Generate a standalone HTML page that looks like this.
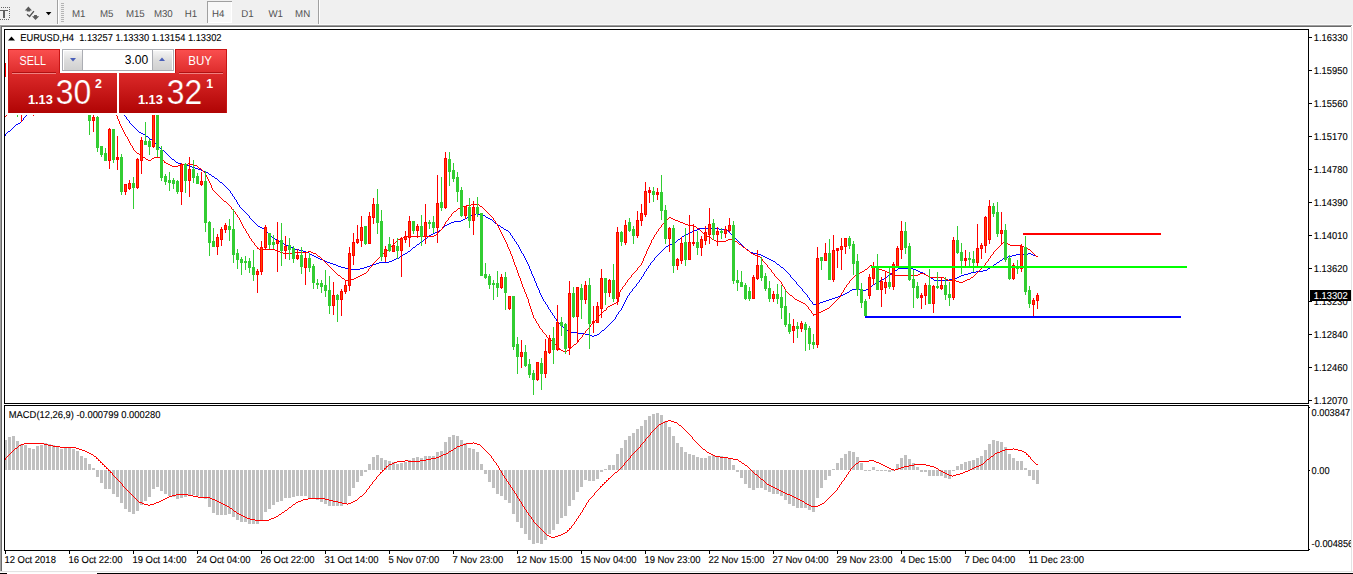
<!DOCTYPE html><html><head><meta charset="utf-8"><title>EURUSD,H4</title><style>
html,body{margin:0;padding:0;background:#fff;}
body{width:1353px;height:574px;overflow:hidden;position:relative;font-family:"Liberation Sans",sans-serif;}
#tb{position:absolute;left:0;top:0;width:1353px;height:25px;background:#f0f0f0;}
#tb span{position:absolute;top:8px;font-size:9.6px;line-height:11px;color:#3c3c3c;white-space:nowrap;}
svg{position:absolute;left:0;top:0;}
.ax{font-size:9px;fill:#000;}
.lb{font-size:9.3px;fill:#000;}
</style></head><body>
<div id="tb"></div>
<svg width="1353" height="574" viewBox="0 0 1353 574">
<g shape-rendering="crispEdges">
<rect x="1" y="7" width="1" height="1" fill="#666"/>
<rect x="3" y="7" width="1" height="1" fill="#666"/>
<rect x="5" y="7" width="1" height="1" fill="#666"/>
<rect x="7" y="7" width="1" height="1" fill="#666"/>
<rect x="9" y="7" width="1" height="1" fill="#666"/>
<rect x="0" y="19" width="1" height="1" fill="#666"/>
<rect x="2" y="19" width="1" height="1" fill="#666"/>
<rect x="4" y="19" width="1" height="1" fill="#666"/>
<rect x="6" y="19" width="1" height="1" fill="#666"/>
<rect x="8" y="19" width="1" height="1" fill="#666"/>
<rect x="9" y="9" width="1" height="1" fill="#666"/>
<rect x="9" y="11" width="1" height="1" fill="#666"/>
<rect x="9" y="13" width="1" height="1" fill="#666"/>
<rect x="9" y="15" width="1" height="1" fill="#666"/>
<rect x="9" y="17" width="1" height="1" fill="#666"/>
<rect x="0" y="10" width="8" height="1" fill="#606060"/><rect x="3" y="10" width="2" height="8" fill="#606060"/>
<rect x="57" y="0" width="1" height="25" fill="#a0a0a0"/><rect x="58" y="0" width="1" height="25" fill="#fff"/>
<rect x="61" y="3" width="3" height="1" fill="#b4b4b4"/>
<rect x="61" y="5" width="3" height="1" fill="#b4b4b4"/>
<rect x="61" y="7" width="3" height="1" fill="#b4b4b4"/>
<rect x="61" y="9" width="3" height="1" fill="#b4b4b4"/>
<rect x="61" y="11" width="3" height="1" fill="#b4b4b4"/>
<rect x="61" y="13" width="3" height="1" fill="#b4b4b4"/>
<rect x="61" y="15" width="3" height="1" fill="#b4b4b4"/>
<rect x="61" y="17" width="3" height="1" fill="#b4b4b4"/>
<rect x="61" y="19" width="3" height="1" fill="#b4b4b4"/>
<rect x="61" y="21" width="3" height="1" fill="#b4b4b4"/>
<rect x="318" y="0" width="1" height="24" fill="#a0a0a0"/><rect x="319" y="0" width="1" height="24" fill="#fff"/>
<rect x="207" y="1" width="25" height="22" fill="#f8f8f8"/>
<rect x="207" y="1" width="25" height="1" fill="#a0a0a0"/><rect x="207" y="1" width="1" height="22" fill="#a0a0a0"/>
<rect x="231" y="2" width="1" height="21" fill="#fff"/><rect x="208" y="22" width="24" height="1" fill="#fff"/>
<rect x="0" y="24" width="1353" height="1" fill="#fafafa"/>
<rect x="0" y="25" width="1352" height="1" fill="#a0a0a0"/>
<rect x="0" y="26" width="1351" height="1" fill="#696969"/>
<rect x="0" y="26" width="1" height="545" fill="#a0a0a0"/><rect x="1" y="27" width="1" height="544" fill="#696969"/>
<rect x="0" y="571" width="1353" height="1" fill="#e3e3e3"/>
<rect x="0" y="572" width="1353" height="1" fill="#fcfcfc"/>
<rect x="0" y="573" width="1353" height="1" fill="#000"/>
<rect x="7" y="573" width="90" height="1" fill="#fff"/>
</g>
<g fill="#5a5a5a"><path d="M28.4 6.5 L32 10.4 L30.2 10.4 L30.2 11.6 L26.8 11.6 L26.8 10.4 L24.8 10.4 Z"/><path d="M35.5 20 L39.2 16.2 L36.9 16.2 L36.9 15 L34.1 15 L34.1 16.2 L32 16.2 Z"/></g>
<path d="M27 14.3 L29.6 16.5 L33.9 11.2" fill="none" stroke="#505050" stroke-width="1.3"/>
<path d="M45.8 12 L51.4 12 L48.6 15.2 Z" fill="#000"/>
<text transform="translate(71.9,17) scale(0.97,1)" style="font-size:10px;fill:#505050;stroke:#505050;stroke-width:0;text-rendering:geometricPrecision">M1</text>
<text transform="translate(99.9,17) scale(0.97,1)" style="font-size:10px;fill:#505050;stroke:#505050;stroke-width:0;text-rendering:geometricPrecision">M5</text>
<text transform="translate(125.9,17) scale(0.97,1)" style="font-size:10px;fill:#505050;stroke:#505050;stroke-width:0;text-rendering:geometricPrecision">M15</text>
<text transform="translate(153.9,17) scale(0.97,1)" style="font-size:10px;fill:#505050;stroke:#505050;stroke-width:0;text-rendering:geometricPrecision">M30</text>
<text transform="translate(184.70000000000002,17) scale(0.97,1)" style="font-size:10px;fill:#505050;stroke:#505050;stroke-width:0;text-rendering:geometricPrecision">H1</text>
<text transform="translate(211.9,17) scale(0.97,1)" style="font-size:10px;fill:#505050;stroke:#505050;stroke-width:0;text-rendering:geometricPrecision">H4</text>
<text transform="translate(241.20000000000002,17) scale(0.97,1)" style="font-size:10px;fill:#505050;stroke:#505050;stroke-width:0;text-rendering:geometricPrecision">D1</text>
<text transform="translate(268.4,17) scale(0.97,1)" style="font-size:10px;fill:#505050;stroke:#505050;stroke-width:0;text-rendering:geometricPrecision">W1</text>
<text transform="translate(295.09999999999997,17) scale(0.97,1)" style="font-size:10px;fill:#505050;stroke:#505050;stroke-width:0;text-rendering:geometricPrecision">MN</text>
<g shape-rendering="crispEdges">
<rect x="1309" y="37" width="3" height="1" fill="#000"/>
<rect x="1309" y="70" width="3" height="1" fill="#000"/>
<rect x="1309" y="103" width="3" height="1" fill="#000"/>
<rect x="1309" y="136" width="3" height="1" fill="#000"/>
<rect x="1309" y="169" width="3" height="1" fill="#000"/>
<rect x="1309" y="202" width="3" height="1" fill="#000"/>
<rect x="1309" y="235" width="3" height="1" fill="#000"/>
<rect x="1309" y="268" width="3" height="1" fill="#000"/>
<rect x="1309" y="301" width="3" height="1" fill="#000"/>
<rect x="1309" y="334" width="3" height="1" fill="#000"/>
<rect x="1309" y="367" width="3" height="1" fill="#000"/>
<rect x="1309" y="400" width="3" height="1" fill="#000"/>
<rect x="1309" y="407" width="1" height="1" fill="#000"/>
<rect x="1309" y="470" width="1" height="1" fill="#000"/>
<rect x="1309" y="549" width="1" height="1" fill="#000"/>
<rect x="5" y="551" width="1" height="3" fill="#000"/>
<rect x="69" y="551" width="1" height="3" fill="#000"/>
<rect x="133" y="551" width="1" height="3" fill="#000"/>
<rect x="197" y="551" width="1" height="3" fill="#000"/>
<rect x="261" y="551" width="1" height="3" fill="#000"/>
<rect x="325" y="551" width="1" height="3" fill="#000"/>
<rect x="389" y="551" width="1" height="3" fill="#000"/>
<rect x="453" y="551" width="1" height="3" fill="#000"/>
<rect x="517" y="551" width="1" height="3" fill="#000"/>
<rect x="581" y="551" width="1" height="3" fill="#000"/>
<rect x="645" y="551" width="1" height="3" fill="#000"/>
<rect x="709" y="551" width="1" height="3" fill="#000"/>
<rect x="773" y="551" width="1" height="3" fill="#000"/>
<rect x="837" y="551" width="1" height="3" fill="#000"/>
<rect x="901" y="551" width="1" height="3" fill="#000"/>
<rect x="965" y="551" width="1" height="3" fill="#000"/>
<rect x="1029" y="551" width="1" height="3" fill="#000"/>
<rect x="4" y="440" width="3" height="30" fill="#c0c0c0"/>
<rect x="8" y="437" width="3" height="33" fill="#c0c0c0"/>
<rect x="12" y="436" width="3" height="34" fill="#c0c0c0"/>
<rect x="16" y="441" width="3" height="29" fill="#c0c0c0"/>
<rect x="20" y="444" width="3" height="26" fill="#c0c0c0"/>
<rect x="24" y="445" width="3" height="25" fill="#c0c0c0"/>
<rect x="28" y="448" width="3" height="22" fill="#c0c0c0"/>
<rect x="32" y="449" width="3" height="21" fill="#c0c0c0"/>
<rect x="36" y="446" width="3" height="24" fill="#c0c0c0"/>
<rect x="40" y="445" width="3" height="25" fill="#c0c0c0"/>
<rect x="44" y="443" width="3" height="27" fill="#c0c0c0"/>
<rect x="48" y="444" width="3" height="26" fill="#c0c0c0"/>
<rect x="52" y="445" width="3" height="25" fill="#c0c0c0"/>
<rect x="56" y="447" width="3" height="23" fill="#c0c0c0"/>
<rect x="60" y="449" width="3" height="21" fill="#c0c0c0"/>
<rect x="64" y="447" width="3" height="23" fill="#c0c0c0"/>
<rect x="68" y="447" width="3" height="23" fill="#c0c0c0"/>
<rect x="72" y="449" width="3" height="21" fill="#c0c0c0"/>
<rect x="76" y="451" width="3" height="19" fill="#c0c0c0"/>
<rect x="80" y="456" width="3" height="14" fill="#c0c0c0"/>
<rect x="84" y="458" width="3" height="12" fill="#c0c0c0"/>
<rect x="88" y="464" width="3" height="6" fill="#c0c0c0"/>
<rect x="92" y="468" width="3" height="2" fill="#c0c0c0"/>
<rect x="96" y="470" width="3" height="7" fill="#c0c0c0"/>
<rect x="100" y="470" width="3" height="13" fill="#c0c0c0"/>
<rect x="104" y="470" width="3" height="19" fill="#c0c0c0"/>
<rect x="108" y="470" width="3" height="19" fill="#c0c0c0"/>
<rect x="112" y="470" width="3" height="24" fill="#c0c0c0"/>
<rect x="116" y="470" width="3" height="27" fill="#c0c0c0"/>
<rect x="120" y="470" width="3" height="33" fill="#c0c0c0"/>
<rect x="124" y="470" width="3" height="39" fill="#c0c0c0"/>
<rect x="128" y="470" width="3" height="42" fill="#c0c0c0"/>
<rect x="132" y="470" width="3" height="44" fill="#c0c0c0"/>
<rect x="136" y="470" width="3" height="41" fill="#c0c0c0"/>
<rect x="140" y="470" width="3" height="35" fill="#c0c0c0"/>
<rect x="144" y="470" width="3" height="31" fill="#c0c0c0"/>
<rect x="148" y="470" width="3" height="27" fill="#c0c0c0"/>
<rect x="152" y="470" width="3" height="19" fill="#c0c0c0"/>
<rect x="156" y="470" width="3" height="17" fill="#c0c0c0"/>
<rect x="160" y="470" width="3" height="21" fill="#c0c0c0"/>
<rect x="164" y="470" width="3" height="24" fill="#c0c0c0"/>
<rect x="168" y="470" width="3" height="26" fill="#c0c0c0"/>
<rect x="172" y="470" width="3" height="27" fill="#c0c0c0"/>
<rect x="176" y="470" width="3" height="29" fill="#c0c0c0"/>
<rect x="180" y="470" width="3" height="28" fill="#c0c0c0"/>
<rect x="184" y="470" width="3" height="27" fill="#c0c0c0"/>
<rect x="188" y="470" width="3" height="25" fill="#c0c0c0"/>
<rect x="192" y="470" width="3" height="25" fill="#c0c0c0"/>
<rect x="196" y="470" width="3" height="26" fill="#c0c0c0"/>
<rect x="200" y="470" width="3" height="27" fill="#c0c0c0"/>
<rect x="204" y="470" width="3" height="29" fill="#c0c0c0"/>
<rect x="208" y="470" width="3" height="37" fill="#c0c0c0"/>
<rect x="212" y="470" width="3" height="43" fill="#c0c0c0"/>
<rect x="216" y="470" width="3" height="45" fill="#c0c0c0"/>
<rect x="220" y="470" width="3" height="45" fill="#c0c0c0"/>
<rect x="224" y="470" width="3" height="45" fill="#c0c0c0"/>
<rect x="228" y="470" width="3" height="44" fill="#c0c0c0"/>
<rect x="232" y="470" width="3" height="47" fill="#c0c0c0"/>
<rect x="236" y="470" width="3" height="50" fill="#c0c0c0"/>
<rect x="240" y="470" width="3" height="52" fill="#c0c0c0"/>
<rect x="244" y="470" width="3" height="52" fill="#c0c0c0"/>
<rect x="248" y="470" width="3" height="54" fill="#c0c0c0"/>
<rect x="252" y="470" width="3" height="54" fill="#c0c0c0"/>
<rect x="256" y="470" width="3" height="54" fill="#c0c0c0"/>
<rect x="260" y="470" width="3" height="50" fill="#c0c0c0"/>
<rect x="264" y="470" width="3" height="42" fill="#c0c0c0"/>
<rect x="268" y="470" width="3" height="39" fill="#c0c0c0"/>
<rect x="272" y="470" width="3" height="35" fill="#c0c0c0"/>
<rect x="276" y="470" width="3" height="32" fill="#c0c0c0"/>
<rect x="280" y="470" width="3" height="31" fill="#c0c0c0"/>
<rect x="284" y="470" width="3" height="28" fill="#c0c0c0"/>
<rect x="288" y="470" width="3" height="28" fill="#c0c0c0"/>
<rect x="292" y="470" width="3" height="27" fill="#c0c0c0"/>
<rect x="296" y="470" width="3" height="26" fill="#c0c0c0"/>
<rect x="300" y="470" width="3" height="26" fill="#c0c0c0"/>
<rect x="304" y="470" width="3" height="26" fill="#c0c0c0"/>
<rect x="308" y="470" width="3" height="28" fill="#c0c0c0"/>
<rect x="312" y="470" width="3" height="28" fill="#c0c0c0"/>
<rect x="316" y="470" width="3" height="30" fill="#c0c0c0"/>
<rect x="320" y="470" width="3" height="32" fill="#c0c0c0"/>
<rect x="324" y="470" width="3" height="34" fill="#c0c0c0"/>
<rect x="328" y="470" width="3" height="36" fill="#c0c0c0"/>
<rect x="332" y="470" width="3" height="36" fill="#c0c0c0"/>
<rect x="336" y="470" width="3" height="36" fill="#c0c0c0"/>
<rect x="340" y="470" width="3" height="36" fill="#c0c0c0"/>
<rect x="344" y="470" width="3" height="33" fill="#c0c0c0"/>
<rect x="348" y="470" width="3" height="26" fill="#c0c0c0"/>
<rect x="352" y="470" width="3" height="18" fill="#c0c0c0"/>
<rect x="356" y="470" width="3" height="12" fill="#c0c0c0"/>
<rect x="360" y="470" width="3" height="6" fill="#c0c0c0"/>
<rect x="364" y="470" width="3" height="2" fill="#c0c0c0"/>
<rect x="368" y="464" width="3" height="6" fill="#c0c0c0"/>
<rect x="372" y="457" width="3" height="13" fill="#c0c0c0"/>
<rect x="376" y="455" width="3" height="15" fill="#c0c0c0"/>
<rect x="380" y="458" width="3" height="12" fill="#c0c0c0"/>
<rect x="384" y="460" width="3" height="10" fill="#c0c0c0"/>
<rect x="388" y="461" width="3" height="9" fill="#c0c0c0"/>
<rect x="392" y="462" width="3" height="8" fill="#c0c0c0"/>
<rect x="396" y="464" width="3" height="6" fill="#c0c0c0"/>
<rect x="400" y="463" width="3" height="7" fill="#c0c0c0"/>
<rect x="404" y="462" width="3" height="8" fill="#c0c0c0"/>
<rect x="408" y="460" width="3" height="10" fill="#c0c0c0"/>
<rect x="412" y="458" width="3" height="12" fill="#c0c0c0"/>
<rect x="416" y="457" width="3" height="13" fill="#c0c0c0"/>
<rect x="420" y="458" width="3" height="12" fill="#c0c0c0"/>
<rect x="424" y="456" width="3" height="14" fill="#c0c0c0"/>
<rect x="428" y="456" width="3" height="14" fill="#c0c0c0"/>
<rect x="432" y="456" width="3" height="14" fill="#c0c0c0"/>
<rect x="436" y="452" width="3" height="18" fill="#c0c0c0"/>
<rect x="440" y="451" width="3" height="19" fill="#c0c0c0"/>
<rect x="444" y="442" width="3" height="28" fill="#c0c0c0"/>
<rect x="448" y="437" width="3" height="33" fill="#c0c0c0"/>
<rect x="452" y="435" width="3" height="35" fill="#c0c0c0"/>
<rect x="456" y="436" width="3" height="34" fill="#c0c0c0"/>
<rect x="460" y="440" width="3" height="30" fill="#c0c0c0"/>
<rect x="464" y="443" width="3" height="27" fill="#c0c0c0"/>
<rect x="468" y="448" width="3" height="22" fill="#c0c0c0"/>
<rect x="472" y="449" width="3" height="21" fill="#c0c0c0"/>
<rect x="476" y="452" width="3" height="18" fill="#c0c0c0"/>
<rect x="480" y="464" width="3" height="6" fill="#c0c0c0"/>
<rect x="484" y="470" width="3" height="4" fill="#c0c0c0"/>
<rect x="488" y="470" width="3" height="12" fill="#c0c0c0"/>
<rect x="492" y="470" width="3" height="18" fill="#c0c0c0"/>
<rect x="496" y="470" width="3" height="24" fill="#c0c0c0"/>
<rect x="500" y="470" width="3" height="26" fill="#c0c0c0"/>
<rect x="504" y="470" width="3" height="30" fill="#c0c0c0"/>
<rect x="508" y="470" width="3" height="33" fill="#c0c0c0"/>
<rect x="512" y="470" width="3" height="44" fill="#c0c0c0"/>
<rect x="516" y="470" width="3" height="52" fill="#c0c0c0"/>
<rect x="520" y="470" width="3" height="58" fill="#c0c0c0"/>
<rect x="524" y="470" width="3" height="64" fill="#c0c0c0"/>
<rect x="528" y="470" width="3" height="70" fill="#c0c0c0"/>
<rect x="532" y="470" width="3" height="74" fill="#c0c0c0"/>
<rect x="536" y="470" width="3" height="73" fill="#c0c0c0"/>
<rect x="540" y="470" width="3" height="74" fill="#c0c0c0"/>
<rect x="544" y="470" width="3" height="70" fill="#c0c0c0"/>
<rect x="548" y="470" width="3" height="64" fill="#c0c0c0"/>
<rect x="552" y="470" width="3" height="60" fill="#c0c0c0"/>
<rect x="556" y="470" width="3" height="54" fill="#c0c0c0"/>
<rect x="560" y="470" width="3" height="48" fill="#c0c0c0"/>
<rect x="564" y="470" width="3" height="46" fill="#c0c0c0"/>
<rect x="568" y="470" width="3" height="36" fill="#c0c0c0"/>
<rect x="572" y="470" width="3" height="30" fill="#c0c0c0"/>
<rect x="576" y="470" width="3" height="22" fill="#c0c0c0"/>
<rect x="580" y="470" width="3" height="17" fill="#c0c0c0"/>
<rect x="584" y="470" width="3" height="10" fill="#c0c0c0"/>
<rect x="588" y="470" width="3" height="11" fill="#c0c0c0"/>
<rect x="592" y="470" width="3" height="11" fill="#c0c0c0"/>
<rect x="596" y="470" width="3" height="9" fill="#c0c0c0"/>
<rect x="600" y="470" width="3" height="2" fill="#c0c0c0"/>
<rect x="604" y="469" width="3" height="1" fill="#c0c0c0"/>
<rect x="608" y="465" width="3" height="5" fill="#c0c0c0"/>
<rect x="612" y="465" width="3" height="5" fill="#c0c0c0"/>
<rect x="616" y="454" width="3" height="16" fill="#c0c0c0"/>
<rect x="620" y="448" width="3" height="22" fill="#c0c0c0"/>
<rect x="624" y="440" width="3" height="30" fill="#c0c0c0"/>
<rect x="628" y="436" width="3" height="34" fill="#c0c0c0"/>
<rect x="632" y="433" width="3" height="37" fill="#c0c0c0"/>
<rect x="636" y="429" width="3" height="41" fill="#c0c0c0"/>
<rect x="640" y="426" width="3" height="44" fill="#c0c0c0"/>
<rect x="644" y="420" width="3" height="50" fill="#c0c0c0"/>
<rect x="648" y="416" width="3" height="54" fill="#c0c0c0"/>
<rect x="652" y="414" width="3" height="56" fill="#c0c0c0"/>
<rect x="656" y="413" width="3" height="57" fill="#c0c0c0"/>
<rect x="660" y="415" width="3" height="55" fill="#c0c0c0"/>
<rect x="664" y="421" width="3" height="49" fill="#c0c0c0"/>
<rect x="668" y="427" width="3" height="43" fill="#c0c0c0"/>
<rect x="672" y="436" width="3" height="34" fill="#c0c0c0"/>
<rect x="676" y="443" width="3" height="27" fill="#c0c0c0"/>
<rect x="680" y="447" width="3" height="23" fill="#c0c0c0"/>
<rect x="684" y="452" width="3" height="18" fill="#c0c0c0"/>
<rect x="688" y="454" width="3" height="16" fill="#c0c0c0"/>
<rect x="692" y="455" width="3" height="15" fill="#c0c0c0"/>
<rect x="696" y="457" width="3" height="13" fill="#c0c0c0"/>
<rect x="700" y="458" width="3" height="12" fill="#c0c0c0"/>
<rect x="704" y="458" width="3" height="12" fill="#c0c0c0"/>
<rect x="708" y="456" width="3" height="14" fill="#c0c0c0"/>
<rect x="712" y="455" width="3" height="15" fill="#c0c0c0"/>
<rect x="716" y="456" width="3" height="14" fill="#c0c0c0"/>
<rect x="720" y="456" width="3" height="14" fill="#c0c0c0"/>
<rect x="724" y="457" width="3" height="13" fill="#c0c0c0"/>
<rect x="728" y="458" width="3" height="12" fill="#c0c0c0"/>
<rect x="732" y="465" width="3" height="5" fill="#c0c0c0"/>
<rect x="736" y="470" width="3" height="2" fill="#c0c0c0"/>
<rect x="740" y="470" width="3" height="8" fill="#c0c0c0"/>
<rect x="744" y="470" width="3" height="14" fill="#c0c0c0"/>
<rect x="748" y="470" width="3" height="18" fill="#c0c0c0"/>
<rect x="752" y="470" width="3" height="20" fill="#c0c0c0"/>
<rect x="756" y="470" width="3" height="18" fill="#c0c0c0"/>
<rect x="760" y="470" width="3" height="18" fill="#c0c0c0"/>
<rect x="764" y="470" width="3" height="20" fill="#c0c0c0"/>
<rect x="768" y="470" width="3" height="22" fill="#c0c0c0"/>
<rect x="772" y="470" width="3" height="24" fill="#c0c0c0"/>
<rect x="776" y="470" width="3" height="24" fill="#c0c0c0"/>
<rect x="780" y="470" width="3" height="26" fill="#c0c0c0"/>
<rect x="784" y="470" width="3" height="30" fill="#c0c0c0"/>
<rect x="788" y="470" width="3" height="34" fill="#c0c0c0"/>
<rect x="792" y="470" width="3" height="36" fill="#c0c0c0"/>
<rect x="796" y="470" width="3" height="38" fill="#c0c0c0"/>
<rect x="800" y="470" width="3" height="38" fill="#c0c0c0"/>
<rect x="804" y="470" width="3" height="38" fill="#c0c0c0"/>
<rect x="808" y="470" width="3" height="40" fill="#c0c0c0"/>
<rect x="812" y="470" width="3" height="42" fill="#c0c0c0"/>
<rect x="816" y="470" width="3" height="28" fill="#c0c0c0"/>
<rect x="820" y="470" width="3" height="18" fill="#c0c0c0"/>
<rect x="824" y="470" width="3" height="10" fill="#c0c0c0"/>
<rect x="828" y="470" width="3" height="6" fill="#c0c0c0"/>
<rect x="832" y="469" width="3" height="1" fill="#c0c0c0"/>
<rect x="836" y="463" width="3" height="7" fill="#c0c0c0"/>
<rect x="840" y="458" width="3" height="12" fill="#c0c0c0"/>
<rect x="844" y="454" width="3" height="16" fill="#c0c0c0"/>
<rect x="848" y="451" width="3" height="19" fill="#c0c0c0"/>
<rect x="852" y="452" width="3" height="18" fill="#c0c0c0"/>
<rect x="856" y="457" width="3" height="13" fill="#c0c0c0"/>
<rect x="860" y="463" width="3" height="7" fill="#c0c0c0"/>
<rect x="864" y="470" width="3" height="1" fill="#c0c0c0"/>
<rect x="868" y="470" width="3" height="1" fill="#c0c0c0"/>
<rect x="872" y="467" width="3" height="3" fill="#c0c0c0"/>
<rect x="876" y="470" width="3" height="1" fill="#c0c0c0"/>
<rect x="880" y="470" width="3" height="1" fill="#c0c0c0"/>
<rect x="884" y="470" width="3" height="1" fill="#c0c0c0"/>
<rect x="888" y="470" width="3" height="2" fill="#c0c0c0"/>
<rect x="892" y="470" width="3" height="1" fill="#c0c0c0"/>
<rect x="896" y="464" width="3" height="6" fill="#c0c0c0"/>
<rect x="900" y="458" width="3" height="12" fill="#c0c0c0"/>
<rect x="904" y="455" width="3" height="15" fill="#c0c0c0"/>
<rect x="908" y="459" width="3" height="11" fill="#c0c0c0"/>
<rect x="912" y="463" width="3" height="7" fill="#c0c0c0"/>
<rect x="916" y="467" width="3" height="3" fill="#c0c0c0"/>
<rect x="920" y="470" width="3" height="2" fill="#c0c0c0"/>
<rect x="924" y="470" width="3" height="2" fill="#c0c0c0"/>
<rect x="928" y="470" width="3" height="6" fill="#c0c0c0"/>
<rect x="932" y="470" width="3" height="6" fill="#c0c0c0"/>
<rect x="936" y="470" width="3" height="6" fill="#c0c0c0"/>
<rect x="940" y="470" width="3" height="6" fill="#c0c0c0"/>
<rect x="944" y="470" width="3" height="8" fill="#c0c0c0"/>
<rect x="948" y="470" width="3" height="9" fill="#c0c0c0"/>
<rect x="952" y="470" width="3" height="1" fill="#c0c0c0"/>
<rect x="956" y="466" width="3" height="4" fill="#c0c0c0"/>
<rect x="960" y="464" width="3" height="6" fill="#c0c0c0"/>
<rect x="964" y="462" width="3" height="8" fill="#c0c0c0"/>
<rect x="968" y="461" width="3" height="9" fill="#c0c0c0"/>
<rect x="972" y="460" width="3" height="10" fill="#c0c0c0"/>
<rect x="976" y="458" width="3" height="12" fill="#c0c0c0"/>
<rect x="980" y="456" width="3" height="14" fill="#c0c0c0"/>
<rect x="984" y="450" width="3" height="20" fill="#c0c0c0"/>
<rect x="988" y="444" width="3" height="26" fill="#c0c0c0"/>
<rect x="992" y="440" width="3" height="30" fill="#c0c0c0"/>
<rect x="996" y="441" width="3" height="29" fill="#c0c0c0"/>
<rect x="1000" y="442" width="3" height="28" fill="#c0c0c0"/>
<rect x="1004" y="447" width="3" height="23" fill="#c0c0c0"/>
<rect x="1008" y="454" width="3" height="16" fill="#c0c0c0"/>
<rect x="1012" y="458" width="3" height="12" fill="#c0c0c0"/>
<rect x="1016" y="461" width="3" height="9" fill="#c0c0c0"/>
<rect x="1020" y="461" width="3" height="9" fill="#c0c0c0"/>
<rect x="1024" y="468" width="3" height="2" fill="#c0c0c0"/>
<rect x="1028" y="470" width="3" height="6" fill="#c0c0c0"/>
<rect x="1032" y="470" width="3" height="10" fill="#c0c0c0"/>
<rect x="1036" y="470" width="3" height="14" fill="#c0c0c0"/>
</g>
<path fill="none" shape-rendering="crispEdges" stroke="#0000ff" stroke-width="1" d="M5.5 134V136M6.5 133V134M7.5 132V133M8.5 131V132M9.5 131V132M10.5 130V131M11.5 129V130M12.5 128V129M13.5 127V128M14.5 126V127M15.5 125V126M16.5 124V125M17.5 124V125M18.5 123V124M19.5 123V124M20.5 122V123M21.5 121V122M22.5 120V121M23.5 118V120M24.5 117V118M25.5 116V117M26.5 114V116M27.5 113V114M123.5 113V115M124.5 115V116M125.5 116V117M126.5 117V119M127.5 119V120M128.5 120V121M129.5 121V123M130.5 123V124M131.5 124V125M132.5 125V126M133.5 126V127M134.5 127V128M135.5 128V129M136.5 129V130M137.5 130V131M138.5 131V132M139.5 132V133M140.5 132V133M141.5 133V134M142.5 133V134M143.5 134V135M144.5 134V135M145.5 135V136M146.5 136V137M147.5 136V137M148.5 137V138M149.5 138V139M150.5 139V140M151.5 139V140M152.5 140V141M153.5 141V142M154.5 142V143M155.5 143V144M156.5 144V145M157.5 145V146M158.5 146V147M159.5 147V148M160.5 148V149M161.5 149V150M162.5 150V151M163.5 150V151M164.5 151V152M165.5 152V153M166.5 153V154M167.5 154V155M168.5 155V156M169.5 156V157M170.5 157V158M171.5 158V159M172.5 159V160M173.5 159V160M174.5 160V161M175.5 161V162M176.5 162V163M177.5 162V163M178.5 163V164M179.5 163V164M180.5 163V164M181.5 163V164M182.5 164V165M183.5 164V165M184.5 164V165M185.5 164V165M186.5 165V166M187.5 165V166M188.5 165V166M189.5 166V167M190.5 166V167M191.5 166V167M192.5 167V168M193.5 167V168M194.5 167V168M195.5 168V169M196.5 168V169M197.5 168V169M198.5 169V170M199.5 169V170M200.5 169V170M201.5 170V171M202.5 170V171M203.5 171V172M204.5 171V172M205.5 171V172M206.5 172V173M207.5 172V173M208.5 173V174M209.5 174V175M210.5 174V175M211.5 175V176M212.5 176V177M213.5 176V177M214.5 177V178M215.5 178V179M216.5 178V179M217.5 179V180M218.5 180V181M219.5 181V182M220.5 182V183M221.5 182V183M222.5 183V184M223.5 184V185M224.5 185V186M225.5 186V187M226.5 187V188M227.5 188V189M228.5 189V190M229.5 190V191M230.5 191V193M231.5 193V194M232.5 194V196M233.5 196V197M234.5 197V199M235.5 199V200M236.5 200V202M237.5 202V204M238.5 204V205M239.5 205V207M240.5 207V208M241.5 208V209M242.5 209V210M243.5 210V211M244.5 211V212M245.5 212V213M246.5 213V214M247.5 214V215M248.5 215V216M249.5 216V218M250.5 218V219M251.5 219V220M252.5 220V221M253.5 221V222M254.5 222V223M255.5 223V224M256.5 224V225M257.5 225V226M258.5 226V227M259.5 226V227M260.5 227V228M261.5 227V228M262.5 228V229M263.5 228V229M264.5 229V230M265.5 230V231M266.5 231V232M267.5 232V233M268.5 233V234M269.5 234V235M270.5 235V236M271.5 236V237M272.5 237V238M273.5 238V239M274.5 238V239M275.5 239V240M276.5 239V240M277.5 240V241M278.5 241V242M279.5 241V242M280.5 242V243M281.5 242V243M282.5 243V244M283.5 243V244M284.5 244V245M285.5 244V245M286.5 245V246M287.5 245V246M288.5 246V247M289.5 246V247M290.5 246V247M291.5 247V248M292.5 247V248M293.5 248V249M294.5 248V249M295.5 249V250M296.5 249V250M297.5 249V250M298.5 249V250M299.5 250V251M300.5 250V251M301.5 250V251M302.5 250V251M303.5 251V252M304.5 251V252M305.5 251V252M306.5 252V253M307.5 252V253M308.5 252V253M309.5 253V254M310.5 254V255M311.5 254V255M312.5 255V256M313.5 255V256M314.5 256V257M315.5 256V257M316.5 257V258M317.5 257V258M318.5 258V259M319.5 258V259M320.5 259V260M321.5 259V260M322.5 259V260M323.5 260V261M324.5 260V261M325.5 261V262M326.5 261V262M327.5 262V263M328.5 262V263M329.5 262V263M330.5 263V264M331.5 263V264M332.5 263V264M333.5 264V265M334.5 264V265M335.5 264V265M336.5 265V266M337.5 265V266M338.5 266V267M339.5 266V267M340.5 266V267M341.5 267V268M342.5 267V268M343.5 267V268M344.5 267V268M345.5 268V269M346.5 268V269M347.5 268V269M348.5 269V270M349.5 269V270M350.5 269V270M351.5 269V270M352.5 269V270M353.5 269V270M354.5 269V270M355.5 269V270M356.5 269V270M357.5 269V270M358.5 269V270M359.5 269V270M360.5 268V269M361.5 268V269M362.5 268V269M363.5 268V269M364.5 267V268M365.5 267V268M366.5 267V268M367.5 266V267M368.5 266V267M369.5 266V267M370.5 265V266M371.5 265V266M372.5 265V266M373.5 264V265M374.5 264V265M375.5 264V265M376.5 263V264M377.5 263V264M378.5 263V264M379.5 262V263M380.5 262V263M381.5 262V263M382.5 262V263M383.5 262V263M384.5 262V263M385.5 262V263M386.5 262V263M387.5 262V263M388.5 262V263M389.5 261V262M390.5 261V262M391.5 261V262M392.5 260V261M393.5 260V261M394.5 259V260M395.5 259V260M396.5 258V259M397.5 258V259M398.5 258V259M399.5 257V258M400.5 256V257M401.5 256V257M402.5 255V256M403.5 254V255M404.5 254V255M405.5 253V254M406.5 253V254M407.5 252V253M408.5 251V252M409.5 251V252M410.5 250V251M411.5 249V250M412.5 248V249M413.5 247V248M414.5 247V248M415.5 246V247M416.5 245V246M417.5 244V245M418.5 244V245M419.5 243V244M420.5 242V243M421.5 241V242M422.5 241V242M423.5 240V241M424.5 239V240M425.5 238V239M426.5 238V239M427.5 237V238M428.5 236V237M429.5 235V236M430.5 235V236M431.5 234V235M432.5 234V235M433.5 233V234M434.5 233V234M435.5 232V233M436.5 232V233M437.5 231V232M438.5 231V232M439.5 230V231M440.5 230V231M441.5 229V230M442.5 228V229M443.5 227V228M444.5 226V227M445.5 225V226M446.5 225V226M447.5 224V225M448.5 224V225M449.5 223V224M450.5 223V224M451.5 222V223M452.5 222V223M453.5 222V223M454.5 221V222M455.5 221V222M456.5 221V222M457.5 221V222M458.5 221V222M459.5 221V222M460.5 221V222M461.5 220V221M462.5 220V221M463.5 219V220M464.5 219V220M465.5 218V219M466.5 218V219M467.5 217V218M468.5 217V218M469.5 216V217M470.5 216V217M471.5 215V216M472.5 215V216M473.5 215V216M474.5 214V215M475.5 214V215M476.5 213V214M477.5 214V215M478.5 214V215M479.5 214V215M480.5 214V215M481.5 215V216M482.5 215V216M483.5 215V216M484.5 215V216M485.5 216V217M486.5 217V218M487.5 217V218M488.5 218V219M489.5 218V219M490.5 219V220M491.5 219V220M492.5 220V221M493.5 221V222M494.5 222V223M495.5 223V224M496.5 223V224M497.5 224V225M498.5 225V226M499.5 225V226M500.5 226V227M501.5 227V228M502.5 227V228M503.5 228V229M504.5 229V230M505.5 229V230M506.5 230V231M507.5 230V231M508.5 231V232M509.5 232V233M510.5 233V235M511.5 235V236M512.5 236V238M513.5 238V239M514.5 239V241M515.5 241V242M516.5 242V244M517.5 244V245M518.5 245V247M519.5 247V249M520.5 249V251M521.5 251V253M522.5 253V254M523.5 254V256M524.5 256V258M525.5 258V260M526.5 260V262M527.5 262V264M528.5 264V266M529.5 266V269M530.5 269V271M531.5 271V274M532.5 274V276M533.5 276V278M534.5 278V281M535.5 281V283M536.5 283V286M537.5 286V288M538.5 288V290M539.5 290V293M540.5 293V295M541.5 295V297M542.5 297V299M543.5 299V301M544.5 301V302M545.5 302V304M546.5 304V305M547.5 305V307M548.5 307V309M549.5 309V310M550.5 310V312M551.5 312V313M552.5 313V315M553.5 315V316M554.5 316V318M555.5 318V319M556.5 319V321M557.5 321V322M558.5 322V323M559.5 323V324M560.5 324V325M561.5 325V326M562.5 326V327M563.5 327V328M564.5 328V329M565.5 329V330M566.5 329V330M567.5 330V331M568.5 330V331M569.5 331V332M570.5 332V333M571.5 332V333M572.5 332V333M573.5 332V333M574.5 332V333M575.5 332V333M576.5 332V333M577.5 333V334M578.5 333V334M579.5 333V334M580.5 333V334M581.5 333V334M582.5 333V334M583.5 333V334M584.5 333V334M585.5 334V335M586.5 334V335M587.5 334V335M588.5 334V335M589.5 335V336M590.5 335V336M591.5 335V336M592.5 336V337M593.5 336V337M594.5 335V336M595.5 335V336M596.5 335V336M597.5 334V335M598.5 334V335M599.5 333V334M600.5 332V333M601.5 331V332M602.5 330V331M603.5 330V331M604.5 329V330M605.5 328V329M606.5 327V328M607.5 326V327M608.5 325V326M609.5 324V325M610.5 323V324M611.5 322V323M612.5 321V322M613.5 320V321M614.5 319V320M615.5 317V319M616.5 315V317M617.5 314V315M618.5 312V314M619.5 311V312M620.5 310V311M621.5 308V310M622.5 306V308M623.5 304V306M624.5 302V304M625.5 300V302M626.5 298V300M627.5 296V298M628.5 295V296M629.5 293V295M630.5 292V293M631.5 291V292M632.5 289V291M633.5 288V289M634.5 287V288M635.5 286V287M636.5 284V286M637.5 283V284M638.5 282V283M639.5 280V282M640.5 279V280M641.5 277V279M642.5 276V277M643.5 274V276M644.5 272V274M645.5 271V272M646.5 269V271M647.5 268V269M648.5 266V268M649.5 265V266M650.5 263V265M651.5 262V263M652.5 261V262M653.5 260V261M654.5 258V260M655.5 257V258M656.5 256V257M657.5 255V256M658.5 254V255M659.5 253V254M660.5 252V253M661.5 251V252M662.5 250V251M663.5 249V250M664.5 248V249M665.5 247V248M666.5 246V247M667.5 246V247M668.5 245V246M669.5 245V246M670.5 244V245M671.5 244V245M672.5 243V244M673.5 243V244M674.5 242V243M675.5 242V243M676.5 241V242M677.5 240V241M678.5 239V240M679.5 239V240M680.5 238V239M681.5 237V238M682.5 236V237M683.5 236V237M684.5 235V236M685.5 235V236M686.5 234V235M687.5 234V235M688.5 233V234M689.5 233V234M690.5 232V233M691.5 232V233M692.5 231V232M693.5 231V232M694.5 230V231M695.5 230V231M696.5 230V231M697.5 229V230M698.5 229V230M699.5 228V229M700.5 228V229M701.5 228V229M702.5 228V229M703.5 228V229M704.5 228V229M705.5 228V229M706.5 228V229M707.5 228V229M708.5 228V229M709.5 228V229M710.5 228V229M711.5 228V229M712.5 228V229M713.5 228V229M714.5 228V229M715.5 228V229M716.5 228V229M717.5 228V229M718.5 228V229M719.5 229V230M720.5 229V230M721.5 229V230M722.5 229V230M723.5 229V230M724.5 230V231M725.5 230V231M726.5 230V231M727.5 230V231M728.5 231V232M729.5 232V233M730.5 233V234M731.5 234V235M732.5 235V236M733.5 236V237M734.5 237V238M735.5 238V239M736.5 239V240M737.5 240V241M738.5 241V242M739.5 242V243M740.5 243V244M741.5 244V245M742.5 245V247M743.5 246V247M744.5 247V248M745.5 248V249M746.5 249V250M747.5 249V250M748.5 250V251M749.5 251V252M750.5 252V253M751.5 252V253M752.5 252V253M753.5 253V254M754.5 253V254M755.5 253V254M756.5 253V254M757.5 253V254M758.5 254V255M759.5 254V255M760.5 254V255M761.5 255V256M762.5 255V256M763.5 256V257M764.5 256V257M765.5 257V258M766.5 257V258M767.5 258V259M768.5 258V259M769.5 259V260M770.5 259V260M771.5 260V261M772.5 260V261M773.5 261V262M774.5 261V262M775.5 262V263M776.5 263V264M777.5 264V265M778.5 264V265M779.5 265V266M780.5 266V267M781.5 267V268M782.5 267V268M783.5 268V269M784.5 269V270M785.5 270V271M786.5 271V272M787.5 272V273M788.5 273V274M789.5 274V275M790.5 275V277M791.5 277V278M792.5 278V279M793.5 279V280M794.5 280V281M795.5 281V282M796.5 282V284M797.5 284V285M798.5 285V286M799.5 286V287M800.5 287V288M801.5 288V289M802.5 289V291M803.5 291V292M804.5 292V293M805.5 293V294M806.5 294V295M807.5 295V297M808.5 297V298M809.5 298V300M810.5 300V301M811.5 301V302M812.5 302V304M813.5 304V305M814.5 304V305M815.5 304V305M816.5 304V305M817.5 303V304M818.5 303V304M819.5 303V304M820.5 302V303M821.5 302V303M822.5 302V303M823.5 301V302M824.5 301V302M825.5 301V302M826.5 300V301M827.5 300V301M828.5 300V301M829.5 299V300M830.5 299V300M831.5 299V300M832.5 298V299M833.5 298V299M834.5 298V299M835.5 297V298M836.5 297V298M837.5 297V298M838.5 296V297M839.5 296V297M840.5 296V297M841.5 295V296M842.5 295V296M843.5 294V295M844.5 294V295M845.5 293V294M846.5 293V294M847.5 292V293M848.5 292V293M849.5 291V292M850.5 290V291M851.5 290V291M852.5 289V290M853.5 289V290M854.5 289V290M855.5 289V290M856.5 289V290M857.5 289V290M858.5 289V290M859.5 289V290M860.5 289V290M861.5 290V291M862.5 290V291M863.5 290V291M864.5 290V291M865.5 290V291M866.5 289V290M867.5 289V290M868.5 288V289M869.5 287V288M870.5 286V287M871.5 286V287M872.5 285V286M873.5 284V285M874.5 284V285M875.5 283V284M876.5 283V284M877.5 282V283M878.5 281V282M879.5 281V282M880.5 280V281M881.5 280V281M882.5 279V280M883.5 279V280M884.5 278V279M885.5 277V278M886.5 277V278M887.5 276V277M888.5 275V276M889.5 275V276M890.5 274V275M891.5 273V274M892.5 273V274M893.5 272V273M894.5 271V272M895.5 270V271M896.5 270V271M897.5 269V270M898.5 268V269M899.5 268V269M900.5 268V269M901.5 268V269M902.5 268V269M903.5 268V269M904.5 268V269M905.5 268V269M906.5 268V269M907.5 268V269M908.5 268V269M909.5 268V269M910.5 268V269M911.5 268V269M912.5 268V269M913.5 269V270M914.5 269V270M915.5 269V270M916.5 270V271M917.5 270V271M918.5 271V272M919.5 271V272M920.5 272V273M921.5 272V273M922.5 272V273M923.5 273V274M924.5 273V274M925.5 274V275M926.5 275V276M927.5 275V276M928.5 276V277M929.5 276V277M930.5 277V278M931.5 278V279M932.5 278V279M933.5 279V280M934.5 280V281M935.5 280V281M936.5 280V281M937.5 280V281M938.5 280V281M939.5 280V281M940.5 280V281M941.5 280V281M942.5 280V281M943.5 280V281M944.5 280V281M945.5 280V281M946.5 280V281M947.5 280V281M948.5 280V281M949.5 279V280M950.5 279V280M951.5 279V280M952.5 279V280M953.5 278V279M954.5 278V279M955.5 278V279M956.5 278V279M957.5 277V278M958.5 277V278M959.5 276V277M960.5 276V277M961.5 275V276M962.5 275V276M963.5 275V276M964.5 274V275M965.5 274V275M966.5 274V275M967.5 274V275M968.5 273V274M969.5 273V274M970.5 273V274M971.5 272V273M972.5 272V273M973.5 272V273M974.5 272V273M975.5 272V273M976.5 271V272M977.5 271V272M978.5 271V272M979.5 271V272M980.5 271V272M981.5 271V272M982.5 271V272M983.5 270V271M984.5 270V271M985.5 270V271M986.5 270V271M987.5 269V270M988.5 268V269M989.5 268V269M990.5 267V268M991.5 266V267M992.5 266V267M993.5 265V266M994.5 264V265M995.5 264V265M996.5 263V264M997.5 262V263M998.5 262V263M999.5 261V262M1000.5 260V261M1001.5 260V261M1002.5 259V260M1003.5 258V259M1004.5 258V259M1005.5 258V259M1006.5 257V258M1007.5 257V258M1008.5 256V257M1009.5 256V257M1010.5 256V257M1011.5 256V257M1012.5 255V256M1013.5 255V256M1014.5 255V256M1015.5 255V256M1016.5 254V255M1017.5 254V255M1018.5 254V255M1019.5 254V255M1020.5 254V255M1021.5 254V255M1022.5 254V255M1023.5 254V255M1024.5 254V255M1025.5 254V255M1026.5 254V255M1027.5 254V255M1028.5 253V254M1029.5 253V254M1030.5 253V254M1031.5 254V255M1032.5 254V255M1033.5 255V256M1034.5 255V256M1035.5 255V256M1036.5 256V257M1037.5 256V257"/>
<path fill="none" shape-rendering="crispEdges" stroke="#ff0000" stroke-width="1" d="M116.5 113V116M117.5 116V119M118.5 119V121M119.5 121V124M120.5 124V126M121.5 126V128M122.5 128V130M123.5 130V132M124.5 132V134M125.5 134V136M126.5 136V137M127.5 137V139M128.5 139V141M129.5 141V143M130.5 143V145M131.5 145V146M132.5 146V148M133.5 148V150M134.5 150V151M135.5 151V152M136.5 152V153M137.5 153V154M138.5 153V154M139.5 154V155M140.5 155V156M141.5 155V156M142.5 156V157M143.5 157V158M144.5 157V158M145.5 158V159M146.5 159V160M147.5 159V160M148.5 160V161M149.5 160V161M150.5 160V161M151.5 159V160M152.5 158V159M153.5 158V159M154.5 157V158M155.5 157V158M156.5 157V158M157.5 157V158M158.5 157V158M159.5 157V158M160.5 157V158M161.5 158V159M162.5 159V160M163.5 160V161M164.5 161V163M165.5 162V163M166.5 163V164M167.5 163V164M168.5 164V165M169.5 164V165M170.5 165V166M171.5 165V166M172.5 166V167M173.5 166V167M174.5 166V167M175.5 166V167M176.5 166V167M177.5 166V167M178.5 165V166M179.5 165V166M180.5 165V166M181.5 165V166M182.5 164V165M183.5 164V165M184.5 164V165M185.5 164V165M186.5 164V165M187.5 164V165M188.5 163V164M189.5 163V164M190.5 164V165M191.5 164V165M192.5 164V165M193.5 164V165M194.5 165V166M195.5 165V166M196.5 165V166M197.5 166V167M198.5 167V168M199.5 168V169M200.5 168V169M201.5 169V170M202.5 170V171M203.5 171V172M204.5 172V173M205.5 173V175M206.5 175V177M207.5 177V179M208.5 179V181M209.5 181V183M210.5 183V185M211.5 185V188M212.5 188V190M213.5 190V191M214.5 191V192M215.5 192V193M216.5 193V194M217.5 194V195M218.5 195V196M219.5 196V197M220.5 197V198M221.5 198V199M222.5 199V200M223.5 200V201M224.5 201V202M225.5 201V202M226.5 202V203M227.5 203V204M228.5 204V205M229.5 205V206M230.5 206V207M231.5 207V209M232.5 209V210M233.5 210V211M234.5 211V212M235.5 212V214M236.5 214V215M237.5 215V217M238.5 217V218M239.5 218V220M240.5 220V222M241.5 222V224M242.5 224V226M243.5 226V228M244.5 228V229M245.5 229V231M246.5 231V233M247.5 233V234M248.5 234V236M249.5 236V238M250.5 238V239M251.5 239V241M252.5 241V242M253.5 242V243M254.5 243V245M255.5 245V246M256.5 246V247M257.5 247V249M258.5 248V249M259.5 249V250M260.5 249V250M261.5 249V250M262.5 249V250M263.5 249V250M264.5 249V250M265.5 249V250M266.5 249V250M267.5 249V250M268.5 249V250M269.5 249V250M270.5 249V250M271.5 249V250M272.5 249V250M273.5 249V250M274.5 249V250M275.5 250V251M276.5 250V251M277.5 251V252M278.5 251V252M279.5 251V252M280.5 252V253M281.5 252V253M282.5 252V253M283.5 253V254M284.5 253V254M285.5 253V254M286.5 253V254M287.5 253V254M288.5 253V254M289.5 253V254M290.5 253V254M291.5 253V254M292.5 253V254M293.5 253V254M294.5 252V253M295.5 252V253M296.5 252V253M297.5 252V253M298.5 252V253M299.5 252V253M300.5 252V253M301.5 252V253M302.5 252V253M303.5 252V253M304.5 252V253M305.5 252V253M306.5 252V253M307.5 252V253M308.5 251V252M309.5 251V252M310.5 251V252M311.5 252V253M312.5 252V253M313.5 253V254M314.5 253V254M315.5 253V254M316.5 254V255M317.5 255V256M318.5 256V257M319.5 256V257M320.5 257V258M321.5 258V259M322.5 259V260M323.5 260V261M324.5 261V262M325.5 262V263M326.5 263V264M327.5 264V265M328.5 265V266M329.5 266V267M330.5 267V268M331.5 268V269M332.5 269V270M333.5 270V271M334.5 271V272M335.5 272V273M336.5 273V274M337.5 274V275M338.5 275V276M339.5 275V276M340.5 276V277M341.5 277V278M342.5 278V279M343.5 278V279M344.5 279V280M345.5 280V281M346.5 280V281M347.5 280V281M348.5 280V281M349.5 280V281M350.5 280V281M351.5 279V280M352.5 279V280M353.5 279V280M354.5 278V279M355.5 278V279M356.5 277V278M357.5 277V278M358.5 276V277M359.5 276V277M360.5 275V276M361.5 275V276M362.5 274V275M363.5 274V275M364.5 273V274M365.5 273V274M366.5 272V273M367.5 271V272M368.5 269V271M369.5 268V269M370.5 267V268M371.5 266V267M372.5 264V266M373.5 263V264M374.5 262V263M375.5 261V262M376.5 260V261M377.5 259V260M378.5 258V259M379.5 257V258M380.5 256V257M381.5 255V256M382.5 254V255M383.5 253V254M384.5 252V253M385.5 251V252M386.5 250V251M387.5 250V251M388.5 249V250M389.5 248V249M390.5 247V248M391.5 246V247M392.5 245V246M393.5 244V245M394.5 243V244M395.5 242V243M396.5 241V242M397.5 240V241M398.5 239V240M399.5 239V240M400.5 238V239M401.5 238V239M402.5 238V239M403.5 237V238M404.5 237V238M405.5 237V238M406.5 237V238M407.5 236V237M408.5 236V237M409.5 236V237M410.5 236V237M411.5 236V237M412.5 236V237M413.5 236V237M414.5 236V237M415.5 236V237M416.5 236V237M417.5 236V237M418.5 236V237M419.5 236V237M420.5 236V237M421.5 236V237M422.5 236V237M423.5 236V237M424.5 236V237M425.5 236V237M426.5 236V237M427.5 236V237M428.5 236V237M429.5 236V237M430.5 236V237M431.5 236V237M432.5 236V237M433.5 236V237M434.5 235V236M435.5 235V236M436.5 234V235M437.5 233V234M438.5 232V233M439.5 231V232M440.5 230V231M441.5 229V230M442.5 227V229M443.5 226V227M444.5 224V226M445.5 222V224M446.5 221V222M447.5 220V221M448.5 218V220M449.5 217V218M450.5 216V217M451.5 214V216M452.5 213V214M453.5 212V213M454.5 211V212M455.5 211V212M456.5 210V211M457.5 209V210M458.5 208V209M459.5 208V209M460.5 208V209M461.5 207V208M462.5 207V208M463.5 206V207M464.5 206V207M465.5 206V207M466.5 205V206M467.5 205V206M468.5 205V206M469.5 205V206M470.5 205V206M471.5 204V205M472.5 204V205M473.5 204V205M474.5 204V205M475.5 204V205M476.5 204V205M477.5 204V205M478.5 204V205M479.5 205V206M480.5 206V207M481.5 206V207M482.5 207V208M483.5 208V209M484.5 209V210M485.5 210V211M486.5 211V212M487.5 212V213M488.5 213V214M489.5 214V215M490.5 215V216M491.5 216V217M492.5 217V218M493.5 218V220M494.5 220V221M495.5 221V223M496.5 223V224M497.5 224V226M498.5 226V228M499.5 228V230M500.5 230V232M501.5 232V234M502.5 234V236M503.5 236V238M504.5 238V240M505.5 240V242M506.5 242V244M507.5 244V247M508.5 247V249M509.5 249V251M510.5 251V254M511.5 254V256M512.5 256V259M513.5 259V262M514.5 262V265M515.5 265V267M516.5 267V270M517.5 270V273M518.5 273V276M519.5 276V278M520.5 278V281M521.5 281V284M522.5 284V287M523.5 287V289M524.5 289V292M525.5 292V294M526.5 294V297M527.5 297V299M528.5 299V303M529.5 303V306M530.5 306V309M531.5 309V312M532.5 312V315M533.5 315V318M534.5 318V319M535.5 319V321M536.5 321V323M537.5 323V324M538.5 324V326M539.5 326V328M540.5 328V329M541.5 329V330M542.5 330V332M543.5 332V333M544.5 333V334M545.5 334V335M546.5 335V337M547.5 337V338M548.5 338V339M549.5 339V340M550.5 340V341M551.5 340V341M552.5 341V342M553.5 342V343M554.5 343V344M555.5 344V345M556.5 345V346M557.5 346V347M558.5 347V348M559.5 348V350M560.5 349V350M561.5 350V351M562.5 350V351M563.5 351V352M564.5 351V352M565.5 352V353M566.5 351V352M567.5 350V351M568.5 350V351M569.5 349V350M570.5 348V349M571.5 347V348M572.5 346V347M573.5 345V346M574.5 344V345M575.5 344V345M576.5 343V344M577.5 342V343M578.5 340V342M579.5 339V340M580.5 338V339M581.5 337V338M582.5 335V337M583.5 334V335M584.5 333V334M585.5 331V333M586.5 330V331M587.5 329V330M588.5 328V329M589.5 327V328M590.5 325V327M591.5 324V325M592.5 323V324M593.5 322V323M594.5 321V322M595.5 320V321M596.5 319V320M597.5 318V319M598.5 316V318M599.5 315V316M600.5 314V315M601.5 313V314M602.5 312V313M603.5 311V312M604.5 310V311M605.5 310V311M606.5 308V310M607.5 307V308M608.5 306V307M609.5 306V307M610.5 305V306M611.5 305V306M612.5 304V305M613.5 304V305M614.5 303V304M615.5 303V304M616.5 302V303M617.5 302V303M618.5 297V302M619.5 292V297M620.5 290V292M621.5 289V290M622.5 287V289M623.5 286V287M624.5 285V286M625.5 283V285M626.5 282V283M627.5 280V282M628.5 279V280M629.5 278V279M630.5 277V278M631.5 275V277M632.5 274V275M633.5 273V274M634.5 272V273M635.5 271V272M636.5 270V271M637.5 268V270M638.5 267V268M639.5 266V267M640.5 265V266M641.5 263V265M642.5 261V263M643.5 258V261M644.5 256V258M645.5 254V256M646.5 251V254M647.5 249V251M648.5 247V249M649.5 245V247M650.5 243V245M651.5 240V243M652.5 239V240M653.5 237V239M654.5 235V237M655.5 234V235M656.5 232V234M657.5 231V232M658.5 229V231M659.5 228V229M660.5 227V228M661.5 225V227M662.5 224V225M663.5 223V224M664.5 222V223M665.5 220V222M666.5 220V221M667.5 219V220M668.5 218V219M669.5 217V218M670.5 217V218M671.5 218V219M672.5 218V219M673.5 219V220M674.5 219V220M675.5 220V221M676.5 220V221M677.5 220V221M678.5 221V222M679.5 221V222M680.5 222V223M681.5 222V223M682.5 222V223M683.5 223V224M684.5 223V224M685.5 224V225M686.5 224V225M687.5 224V225M688.5 225V226M689.5 225V226M690.5 225V226M691.5 225V226M692.5 225V226M693.5 225V226M694.5 226V227M695.5 226V227M696.5 227V228M697.5 228V229M698.5 228V229M699.5 229V230M700.5 230V231M701.5 231V232M702.5 232V233M703.5 233V234M704.5 234V235M705.5 235V236M706.5 235V236M707.5 236V237M708.5 236V237M709.5 237V238M710.5 237V238M711.5 238V239M712.5 239V240M713.5 239V240M714.5 240V241M715.5 240V241M716.5 241V242M717.5 241V242M718.5 241V242M719.5 241V242M720.5 241V242M721.5 241V242M722.5 241V242M723.5 241V242M724.5 241V242M725.5 241V242M726.5 240V241M727.5 240V241M728.5 239V240M729.5 239V240M730.5 239V240M731.5 239V240M732.5 240V241M733.5 240V241M734.5 241V242M735.5 241V242M736.5 241V242M737.5 242V243M738.5 243V244M739.5 244V245M740.5 244V245M741.5 245V246M742.5 246V247M743.5 247V248M744.5 247V248M745.5 248V249M746.5 249V250M747.5 250V251M748.5 250V251M749.5 251V252M750.5 252V253M751.5 253V254M752.5 253V254M753.5 254V255M754.5 254V255M755.5 255V256M756.5 255V256M757.5 256V257M758.5 256V257M759.5 256V257M760.5 257V258M761.5 258V259M762.5 259V261M763.5 261V262M764.5 262V263M765.5 263V264M766.5 264V265M767.5 265V267M768.5 267V268M769.5 268V269M770.5 269V270M771.5 270V272M772.5 272V273M773.5 273V274M774.5 274V276M775.5 276V277M776.5 277V278M777.5 278V279M778.5 279V280M779.5 280V281M780.5 281V282M781.5 282V284M782.5 284V286M783.5 286V287M784.5 287V289M785.5 289V291M786.5 291V292M787.5 292V293M788.5 293V294M789.5 294V295M790.5 295V296M791.5 295V296M792.5 296V297M793.5 297V298M794.5 298V299M795.5 299V300M796.5 299V300M797.5 300V301M798.5 300V301M799.5 301V302M800.5 301V302M801.5 302V303M802.5 302V303M803.5 303V304M804.5 303V304M805.5 304V305M806.5 305V306M807.5 306V307M808.5 307V309M809.5 309V310M810.5 310V311M811.5 311V313M812.5 313V314M813.5 314V316M814.5 314V315M815.5 314V315M816.5 314V315M817.5 313V314M818.5 313V314M819.5 312V313M820.5 312V313M821.5 311V312M822.5 311V312M823.5 310V311M824.5 310V311M825.5 309V310M826.5 309V310M827.5 308V309M828.5 308V309M829.5 307V308M830.5 306V307M831.5 305V306M832.5 304V305M833.5 303V304M834.5 302V303M835.5 301V302M836.5 300V301M837.5 299V300M838.5 298V299M839.5 297V298M840.5 295V297M841.5 293V295M842.5 292V293M843.5 290V292M844.5 288V290M845.5 287V288M846.5 285V287M847.5 284V285M848.5 283V284M849.5 281V283M850.5 280V281M851.5 279V280M852.5 278V279M853.5 277V278M854.5 276V277M855.5 275V276M856.5 275V276M857.5 274V275M858.5 274V275M859.5 273V274M860.5 272V273M861.5 272V273M862.5 271V272M863.5 271V272M864.5 270V271M865.5 269V270M866.5 269V270M867.5 268V269M868.5 267V268M869.5 266V267M870.5 265V266M871.5 265V266M872.5 266V267M873.5 266V267M874.5 267V268M875.5 267V268M876.5 268V269M877.5 268V269M878.5 268V269M879.5 269V270M880.5 269V270M881.5 269V270M882.5 270V271M883.5 270V271M884.5 270V271M885.5 271V272M886.5 271V272M887.5 272V273M888.5 272V273M889.5 273V274M890.5 273V274M891.5 274V275M892.5 274V275M893.5 275V276M894.5 275V276M895.5 275V276M896.5 275V276M897.5 275V276M898.5 275V276M899.5 275V276M900.5 275V276M901.5 275V276M902.5 275V276M903.5 275V276M904.5 275V276M905.5 275V276M906.5 275V276M907.5 275V276M908.5 275V276M909.5 275V276M910.5 275V276M911.5 275V276M912.5 275V276M913.5 275V276M914.5 275V276M915.5 275V276M916.5 275V276M917.5 275V276M918.5 274V275M919.5 274V275M920.5 273V274M921.5 273V274M922.5 273V274M923.5 273V274M924.5 274V275M925.5 274V275M926.5 275V276M927.5 275V276M928.5 276V277M929.5 276V277M930.5 277V278M931.5 277V278M932.5 277V278M933.5 277V278M934.5 277V278M935.5 277V278M936.5 277V278M937.5 277V278M938.5 277V278M939.5 277V278M940.5 277V278M941.5 277V278M942.5 277V278M943.5 277V278M944.5 278V279M945.5 278V279M946.5 279V280M947.5 279V280M948.5 280V281M949.5 280V281M950.5 280V281M951.5 280V281M952.5 280V281M953.5 280V281M954.5 280V281M955.5 280V281M956.5 281V282M957.5 281V282M958.5 281V282M959.5 282V283M960.5 282V283M961.5 282V283M962.5 282V283M963.5 281V282M964.5 281V282M965.5 280V281M966.5 280V281M967.5 279V280M968.5 279V280M969.5 279V280M970.5 278V279M971.5 277V278M972.5 277V278M973.5 276V277M974.5 275V276M975.5 274V275M976.5 273V274M977.5 272V273M978.5 271V272M979.5 270V271M980.5 269V270M981.5 268V269M982.5 267V268M983.5 266V267M984.5 265V266M985.5 263V265M986.5 262V263M987.5 261V262M988.5 259V261M989.5 258V259M990.5 256V258M991.5 255V256M992.5 254V255M993.5 252V254M994.5 251V252M995.5 250V251M996.5 249V250M997.5 248V249M998.5 247V248M999.5 246V247M1000.5 245V246M1001.5 244V245M1002.5 243V244M1003.5 242V243M1004.5 242V243M1005.5 242V243M1006.5 243V244M1007.5 243V244M1008.5 244V245M1009.5 244V245M1010.5 245V246M1011.5 245V246M1012.5 245V246M1013.5 245V246M1014.5 245V246M1015.5 245V246M1016.5 245V246M1017.5 245V246M1018.5 245V246M1019.5 245V246M1020.5 245V246M1021.5 245V246M1022.5 246V247M1023.5 246V247M1024.5 247V248M1025.5 247V248M1026.5 248V249M1027.5 248V249M1028.5 249V250M1029.5 249V250M1030.5 250V251M1031.5 251V252M1032.5 252V253M1033.5 253V254M1034.5 254V255M1035.5 255V256M1036.5 256V257M1037.5 256V257"/>
<g shape-rendering="crispEdges">
<rect x="89" y="113" width="1" height="22" fill="#32cd32"/>
<rect x="88" y="113" width="3" height="8" fill="#32cd32"/>
<rect x="93" y="113" width="1" height="19" fill="#ff0000"/>
<rect x="92" y="117" width="3" height="4" fill="#ff0000"/>
<rect x="93" y="118" width="1" height="2" fill="#ff4500"/>
<rect x="97" y="116" width="1" height="36" fill="#32cd32"/>
<rect x="96" y="117" width="3" height="31" fill="#32cd32"/>
<rect x="101" y="146" width="1" height="11" fill="#32cd32"/>
<rect x="100" y="146" width="3" height="9" fill="#32cd32"/>
<rect x="105" y="148" width="1" height="13" fill="#32cd32"/>
<rect x="104" y="153" width="3" height="8" fill="#32cd32"/>
<rect x="109" y="128" width="1" height="41" fill="#ff0000"/>
<rect x="108" y="129" width="3" height="32" fill="#ff0000"/>
<rect x="109" y="130" width="1" height="30" fill="#ff4500"/>
<rect x="113" y="129" width="1" height="34" fill="#32cd32"/>
<rect x="112" y="129" width="3" height="31" fill="#32cd32"/>
<rect x="117" y="136" width="1" height="34" fill="#ff0000"/>
<rect x="116" y="157" width="3" height="3" fill="#ff0000"/>
<rect x="121" y="154" width="1" height="41" fill="#32cd32"/>
<rect x="120" y="157" width="3" height="35" fill="#32cd32"/>
<rect x="125" y="184" width="1" height="11" fill="#ff0000"/>
<rect x="124" y="184" width="3" height="8" fill="#ff0000"/>
<rect x="125" y="185" width="1" height="6" fill="#ff4500"/>
<rect x="129" y="180" width="1" height="10" fill="#ff0000"/>
<rect x="128" y="183" width="3" height="6" fill="#ff0000"/>
<rect x="129" y="184" width="1" height="4" fill="#ff4500"/>
<rect x="133" y="177" width="1" height="32" fill="#32cd32"/>
<rect x="132" y="183" width="3" height="5" fill="#32cd32"/>
<rect x="137" y="158" width="1" height="31" fill="#ff0000"/>
<rect x="136" y="159" width="3" height="29" fill="#ff0000"/>
<rect x="137" y="160" width="1" height="27" fill="#ff4500"/>
<rect x="141" y="137" width="1" height="37" fill="#ff0000"/>
<rect x="140" y="140" width="3" height="21" fill="#ff0000"/>
<rect x="141" y="141" width="1" height="19" fill="#ff4500"/>
<rect x="145" y="122" width="1" height="23" fill="#32cd32"/>
<rect x="144" y="141" width="3" height="4" fill="#32cd32"/>
<rect x="149" y="139" width="1" height="16" fill="#32cd32"/>
<rect x="148" y="141" width="3" height="6" fill="#32cd32"/>
<rect x="153" y="113" width="1" height="35" fill="#ff0000"/>
<rect x="152" y="113" width="3" height="34" fill="#ff0000"/>
<rect x="153" y="114" width="1" height="32" fill="#ff4500"/>
<rect x="157" y="113" width="1" height="44" fill="#32cd32"/>
<rect x="156" y="113" width="3" height="37" fill="#32cd32"/>
<rect x="161" y="146" width="1" height="35" fill="#32cd32"/>
<rect x="160" y="150" width="3" height="28" fill="#32cd32"/>
<rect x="165" y="174" width="1" height="11" fill="#32cd32"/>
<rect x="164" y="176" width="3" height="6" fill="#32cd32"/>
<rect x="169" y="172" width="1" height="19" fill="#32cd32"/>
<rect x="168" y="180" width="3" height="3" fill="#32cd32"/>
<rect x="173" y="178" width="1" height="11" fill="#32cd32"/>
<rect x="172" y="180" width="3" height="4" fill="#32cd32"/>
<rect x="177" y="180" width="1" height="14" fill="#32cd32"/>
<rect x="176" y="181" width="3" height="11" fill="#32cd32"/>
<rect x="181" y="163" width="1" height="42" fill="#ff0000"/>
<rect x="180" y="164" width="3" height="28" fill="#ff0000"/>
<rect x="181" y="165" width="1" height="26" fill="#ff4500"/>
<rect x="185" y="163" width="1" height="30" fill="#32cd32"/>
<rect x="184" y="164" width="3" height="17" fill="#32cd32"/>
<rect x="189" y="157" width="1" height="40" fill="#ff0000"/>
<rect x="188" y="169" width="3" height="12" fill="#ff0000"/>
<rect x="189" y="170" width="1" height="10" fill="#ff4500"/>
<rect x="193" y="160" width="1" height="23" fill="#32cd32"/>
<rect x="192" y="169" width="3" height="9" fill="#32cd32"/>
<rect x="197" y="173" width="1" height="11" fill="#32cd32"/>
<rect x="196" y="176" width="3" height="8" fill="#32cd32"/>
<rect x="201" y="172" width="1" height="14" fill="#ff0000"/>
<rect x="200" y="181" width="3" height="4" fill="#ff0000"/>
<rect x="201" y="182" width="1" height="2" fill="#ff4500"/>
<rect x="205" y="171" width="1" height="61" fill="#32cd32"/>
<rect x="204" y="181" width="3" height="42" fill="#32cd32"/>
<rect x="209" y="221" width="1" height="35" fill="#32cd32"/>
<rect x="208" y="222" width="3" height="21" fill="#32cd32"/>
<rect x="213" y="228" width="1" height="19" fill="#32cd32"/>
<rect x="212" y="241" width="3" height="6" fill="#32cd32"/>
<rect x="217" y="234" width="1" height="21" fill="#ff0000"/>
<rect x="216" y="237" width="3" height="10" fill="#ff0000"/>
<rect x="217" y="238" width="1" height="8" fill="#ff4500"/>
<rect x="221" y="227" width="1" height="19" fill="#ff0000"/>
<rect x="220" y="229" width="3" height="11" fill="#ff0000"/>
<rect x="221" y="230" width="1" height="9" fill="#ff4500"/>
<rect x="225" y="223" width="1" height="10" fill="#ff0000"/>
<rect x="224" y="225" width="3" height="5" fill="#ff0000"/>
<rect x="225" y="226" width="1" height="3" fill="#ff4500"/>
<rect x="229" y="219" width="1" height="22" fill="#32cd32"/>
<rect x="228" y="226" width="3" height="4" fill="#32cd32"/>
<rect x="233" y="209" width="1" height="54" fill="#32cd32"/>
<rect x="232" y="229" width="3" height="26" fill="#32cd32"/>
<rect x="237" y="249" width="1" height="20" fill="#32cd32"/>
<rect x="236" y="253" width="3" height="7" fill="#32cd32"/>
<rect x="241" y="257" width="1" height="18" fill="#32cd32"/>
<rect x="240" y="259" width="3" height="4" fill="#32cd32"/>
<rect x="245" y="256" width="1" height="14" fill="#32cd32"/>
<rect x="244" y="261" width="3" height="2" fill="#32cd32"/>
<rect x="249" y="258" width="1" height="15" fill="#32cd32"/>
<rect x="248" y="261" width="3" height="7" fill="#32cd32"/>
<rect x="253" y="250" width="1" height="31" fill="#32cd32"/>
<rect x="252" y="267" width="3" height="8" fill="#32cd32"/>
<rect x="257" y="269" width="1" height="24" fill="#ff0000"/>
<rect x="256" y="271" width="3" height="4" fill="#ff0000"/>
<rect x="257" y="272" width="1" height="2" fill="#ff4500"/>
<rect x="261" y="241" width="1" height="34" fill="#ff0000"/>
<rect x="260" y="247" width="3" height="25" fill="#ff0000"/>
<rect x="261" y="248" width="1" height="23" fill="#ff4500"/>
<rect x="265" y="225" width="1" height="24" fill="#ff0000"/>
<rect x="264" y="227" width="3" height="21" fill="#ff0000"/>
<rect x="265" y="228" width="1" height="19" fill="#ff4500"/>
<rect x="269" y="233" width="1" height="16" fill="#32cd32"/>
<rect x="268" y="233" width="3" height="12" fill="#32cd32"/>
<rect x="273" y="235" width="1" height="14" fill="#32cd32"/>
<rect x="272" y="242" width="3" height="3" fill="#32cd32"/>
<rect x="277" y="222" width="1" height="50" fill="#ff0000"/>
<rect x="276" y="240" width="3" height="4" fill="#ff0000"/>
<rect x="277" y="241" width="1" height="2" fill="#ff4500"/>
<rect x="281" y="223" width="1" height="43" fill="#32cd32"/>
<rect x="280" y="240" width="3" height="11" fill="#32cd32"/>
<rect x="285" y="236" width="1" height="23" fill="#ff0000"/>
<rect x="284" y="246" width="3" height="5" fill="#ff0000"/>
<rect x="285" y="247" width="1" height="3" fill="#ff4500"/>
<rect x="289" y="238" width="1" height="22" fill="#32cd32"/>
<rect x="288" y="245" width="3" height="5" fill="#32cd32"/>
<rect x="293" y="246" width="1" height="17" fill="#32cd32"/>
<rect x="292" y="248" width="3" height="11" fill="#32cd32"/>
<rect x="297" y="249" width="1" height="11" fill="#ff0000"/>
<rect x="296" y="255" width="3" height="4" fill="#ff0000"/>
<rect x="297" y="256" width="1" height="2" fill="#ff4500"/>
<rect x="301" y="247" width="1" height="27" fill="#32cd32"/>
<rect x="300" y="255" width="3" height="12" fill="#32cd32"/>
<rect x="305" y="252" width="1" height="33" fill="#ff0000"/>
<rect x="304" y="258" width="3" height="10" fill="#ff0000"/>
<rect x="305" y="259" width="1" height="8" fill="#ff4500"/>
<rect x="309" y="253" width="1" height="19" fill="#32cd32"/>
<rect x="308" y="258" width="3" height="10" fill="#32cd32"/>
<rect x="313" y="264" width="1" height="25" fill="#32cd32"/>
<rect x="312" y="266" width="3" height="17" fill="#32cd32"/>
<rect x="317" y="279" width="1" height="10" fill="#32cd32"/>
<rect x="316" y="283" width="3" height="2" fill="#32cd32"/>
<rect x="321" y="280" width="1" height="13" fill="#32cd32"/>
<rect x="320" y="283" width="3" height="4" fill="#32cd32"/>
<rect x="325" y="270" width="1" height="27" fill="#32cd32"/>
<rect x="324" y="285" width="3" height="6" fill="#32cd32"/>
<rect x="329" y="276" width="1" height="38" fill="#32cd32"/>
<rect x="328" y="290" width="3" height="16" fill="#32cd32"/>
<rect x="333" y="282" width="1" height="33" fill="#ff0000"/>
<rect x="332" y="295" width="3" height="11" fill="#ff0000"/>
<rect x="333" y="296" width="1" height="9" fill="#ff4500"/>
<rect x="337" y="294" width="1" height="28" fill="#32cd32"/>
<rect x="336" y="295" width="3" height="5" fill="#32cd32"/>
<rect x="341" y="289" width="1" height="27" fill="#ff0000"/>
<rect x="340" y="291" width="3" height="9" fill="#ff0000"/>
<rect x="341" y="292" width="1" height="7" fill="#ff4500"/>
<rect x="345" y="280" width="1" height="14" fill="#ff0000"/>
<rect x="344" y="285" width="3" height="7" fill="#ff0000"/>
<rect x="345" y="286" width="1" height="5" fill="#ff4500"/>
<rect x="349" y="247" width="1" height="44" fill="#ff0000"/>
<rect x="348" y="253" width="3" height="33" fill="#ff0000"/>
<rect x="349" y="254" width="1" height="31" fill="#ff4500"/>
<rect x="353" y="233" width="1" height="32" fill="#ff0000"/>
<rect x="352" y="242" width="3" height="14" fill="#ff0000"/>
<rect x="353" y="243" width="1" height="12" fill="#ff4500"/>
<rect x="357" y="225" width="1" height="19" fill="#ff0000"/>
<rect x="356" y="239" width="3" height="4" fill="#ff0000"/>
<rect x="357" y="240" width="1" height="2" fill="#ff4500"/>
<rect x="361" y="216" width="1" height="31" fill="#ff0000"/>
<rect x="360" y="227" width="3" height="14" fill="#ff0000"/>
<rect x="361" y="228" width="1" height="12" fill="#ff4500"/>
<rect x="365" y="226" width="1" height="19" fill="#32cd32"/>
<rect x="364" y="226" width="3" height="18" fill="#32cd32"/>
<rect x="369" y="212" width="1" height="32" fill="#ff0000"/>
<rect x="368" y="216" width="3" height="28" fill="#ff0000"/>
<rect x="369" y="217" width="1" height="26" fill="#ff4500"/>
<rect x="373" y="198" width="1" height="26" fill="#ff0000"/>
<rect x="372" y="204" width="3" height="14" fill="#ff0000"/>
<rect x="373" y="205" width="1" height="12" fill="#ff4500"/>
<rect x="377" y="189" width="1" height="45" fill="#32cd32"/>
<rect x="376" y="204" width="3" height="19" fill="#32cd32"/>
<rect x="381" y="210" width="1" height="51" fill="#32cd32"/>
<rect x="380" y="221" width="3" height="36" fill="#32cd32"/>
<rect x="385" y="246" width="1" height="16" fill="#ff0000"/>
<rect x="384" y="249" width="3" height="8" fill="#ff0000"/>
<rect x="385" y="250" width="1" height="6" fill="#ff4500"/>
<rect x="389" y="237" width="1" height="15" fill="#32cd32"/>
<rect x="388" y="244" width="3" height="7" fill="#32cd32"/>
<rect x="393" y="239" width="1" height="13" fill="#ff0000"/>
<rect x="392" y="245" width="3" height="7" fill="#ff0000"/>
<rect x="393" y="246" width="1" height="5" fill="#ff4500"/>
<rect x="397" y="238" width="1" height="21" fill="#32cd32"/>
<rect x="396" y="246" width="3" height="5" fill="#32cd32"/>
<rect x="401" y="237" width="1" height="40" fill="#ff0000"/>
<rect x="400" y="238" width="3" height="13" fill="#ff0000"/>
<rect x="401" y="239" width="1" height="11" fill="#ff4500"/>
<rect x="405" y="231" width="1" height="12" fill="#ff0000"/>
<rect x="404" y="236" width="3" height="4" fill="#ff0000"/>
<rect x="405" y="237" width="1" height="2" fill="#ff4500"/>
<rect x="409" y="216" width="1" height="31" fill="#ff0000"/>
<rect x="408" y="221" width="3" height="17" fill="#ff0000"/>
<rect x="409" y="222" width="1" height="15" fill="#ff4500"/>
<rect x="413" y="221" width="1" height="13" fill="#32cd32"/>
<rect x="412" y="221" width="3" height="10" fill="#32cd32"/>
<rect x="417" y="224" width="1" height="14" fill="#ff0000"/>
<rect x="416" y="226" width="3" height="5" fill="#ff0000"/>
<rect x="417" y="227" width="1" height="3" fill="#ff4500"/>
<rect x="421" y="215" width="1" height="31" fill="#32cd32"/>
<rect x="420" y="226" width="3" height="11" fill="#32cd32"/>
<rect x="425" y="204" width="1" height="40" fill="#ff0000"/>
<rect x="424" y="222" width="3" height="15" fill="#ff0000"/>
<rect x="425" y="223" width="1" height="13" fill="#ff4500"/>
<rect x="429" y="220" width="1" height="9" fill="#32cd32"/>
<rect x="428" y="222" width="3" height="2" fill="#32cd32"/>
<rect x="433" y="216" width="1" height="17" fill="#32cd32"/>
<rect x="432" y="222" width="3" height="6" fill="#32cd32"/>
<rect x="437" y="175" width="1" height="68" fill="#ff0000"/>
<rect x="436" y="203" width="3" height="25" fill="#ff0000"/>
<rect x="437" y="204" width="1" height="23" fill="#ff4500"/>
<rect x="441" y="177" width="1" height="34" fill="#32cd32"/>
<rect x="440" y="202" width="3" height="6" fill="#32cd32"/>
<rect x="445" y="152" width="1" height="57" fill="#ff0000"/>
<rect x="444" y="158" width="3" height="50" fill="#ff0000"/>
<rect x="445" y="159" width="1" height="48" fill="#ff4500"/>
<rect x="449" y="152" width="1" height="34" fill="#32cd32"/>
<rect x="448" y="159" width="3" height="13" fill="#32cd32"/>
<rect x="453" y="163" width="1" height="19" fill="#32cd32"/>
<rect x="452" y="170" width="3" height="9" fill="#32cd32"/>
<rect x="457" y="172" width="1" height="30" fill="#32cd32"/>
<rect x="456" y="177" width="3" height="15" fill="#32cd32"/>
<rect x="461" y="187" width="1" height="30" fill="#32cd32"/>
<rect x="460" y="190" width="3" height="26" fill="#32cd32"/>
<rect x="465" y="206" width="1" height="13" fill="#ff0000"/>
<rect x="464" y="206" width="3" height="10" fill="#ff0000"/>
<rect x="465" y="207" width="1" height="8" fill="#ff4500"/>
<rect x="469" y="198" width="1" height="30" fill="#32cd32"/>
<rect x="468" y="207" width="3" height="14" fill="#32cd32"/>
<rect x="473" y="201" width="1" height="34" fill="#ff0000"/>
<rect x="472" y="207" width="3" height="14" fill="#ff0000"/>
<rect x="473" y="208" width="1" height="12" fill="#ff4500"/>
<rect x="477" y="197" width="1" height="20" fill="#32cd32"/>
<rect x="476" y="207" width="3" height="7" fill="#32cd32"/>
<rect x="481" y="213" width="1" height="63" fill="#32cd32"/>
<rect x="480" y="213" width="3" height="63" fill="#32cd32"/>
<rect x="485" y="263" width="1" height="16" fill="#32cd32"/>
<rect x="484" y="274" width="3" height="4" fill="#32cd32"/>
<rect x="489" y="274" width="1" height="15" fill="#32cd32"/>
<rect x="488" y="276" width="3" height="9" fill="#32cd32"/>
<rect x="493" y="280" width="1" height="20" fill="#32cd32"/>
<rect x="492" y="283" width="3" height="2" fill="#32cd32"/>
<rect x="497" y="271" width="1" height="26" fill="#32cd32"/>
<rect x="496" y="283" width="3" height="5" fill="#32cd32"/>
<rect x="501" y="274" width="1" height="15" fill="#ff0000"/>
<rect x="500" y="277" width="3" height="11" fill="#ff0000"/>
<rect x="501" y="278" width="1" height="9" fill="#ff4500"/>
<rect x="505" y="272" width="1" height="38" fill="#32cd32"/>
<rect x="504" y="277" width="3" height="16" fill="#32cd32"/>
<rect x="509" y="296" width="1" height="14" fill="#ff0000"/>
<rect x="508" y="296" width="3" height="13" fill="#ff0000"/>
<rect x="509" y="297" width="1" height="11" fill="#ff4500"/>
<rect x="513" y="296" width="1" height="54" fill="#32cd32"/>
<rect x="512" y="296" width="3" height="51" fill="#32cd32"/>
<rect x="517" y="337" width="1" height="37" fill="#32cd32"/>
<rect x="516" y="344" width="3" height="13" fill="#32cd32"/>
<rect x="521" y="340" width="1" height="28" fill="#ff0000"/>
<rect x="520" y="352" width="3" height="5" fill="#ff0000"/>
<rect x="521" y="353" width="1" height="3" fill="#ff4500"/>
<rect x="525" y="345" width="1" height="22" fill="#32cd32"/>
<rect x="524" y="352" width="3" height="14" fill="#32cd32"/>
<rect x="529" y="359" width="1" height="19" fill="#32cd32"/>
<rect x="528" y="364" width="3" height="11" fill="#32cd32"/>
<rect x="533" y="370" width="1" height="25" fill="#32cd32"/>
<rect x="532" y="373" width="3" height="7" fill="#32cd32"/>
<rect x="537" y="362" width="1" height="19" fill="#ff0000"/>
<rect x="536" y="362" width="3" height="18" fill="#ff0000"/>
<rect x="537" y="363" width="1" height="16" fill="#ff4500"/>
<rect x="541" y="358" width="1" height="32" fill="#32cd32"/>
<rect x="540" y="363" width="3" height="11" fill="#32cd32"/>
<rect x="545" y="339" width="1" height="39" fill="#ff0000"/>
<rect x="544" y="351" width="3" height="23" fill="#ff0000"/>
<rect x="545" y="352" width="1" height="21" fill="#ff4500"/>
<rect x="549" y="335" width="1" height="19" fill="#ff0000"/>
<rect x="548" y="338" width="3" height="15" fill="#ff0000"/>
<rect x="549" y="339" width="1" height="13" fill="#ff4500"/>
<rect x="553" y="327" width="1" height="37" fill="#32cd32"/>
<rect x="552" y="338" width="3" height="12" fill="#32cd32"/>
<rect x="557" y="305" width="1" height="46" fill="#ff0000"/>
<rect x="556" y="322" width="3" height="28" fill="#ff0000"/>
<rect x="557" y="323" width="1" height="26" fill="#ff4500"/>
<rect x="561" y="317" width="1" height="19" fill="#32cd32"/>
<rect x="560" y="322" width="3" height="4" fill="#32cd32"/>
<rect x="565" y="323" width="1" height="31" fill="#32cd32"/>
<rect x="564" y="324" width="3" height="25" fill="#32cd32"/>
<rect x="569" y="281" width="1" height="74" fill="#ff0000"/>
<rect x="568" y="293" width="3" height="55" fill="#ff0000"/>
<rect x="569" y="294" width="1" height="53" fill="#ff4500"/>
<rect x="573" y="287" width="1" height="31" fill="#32cd32"/>
<rect x="572" y="293" width="3" height="24" fill="#32cd32"/>
<rect x="577" y="287" width="1" height="56" fill="#ff0000"/>
<rect x="576" y="287" width="3" height="30" fill="#ff0000"/>
<rect x="577" y="288" width="1" height="28" fill="#ff4500"/>
<rect x="581" y="284" width="1" height="35" fill="#32cd32"/>
<rect x="580" y="288" width="3" height="12" fill="#32cd32"/>
<rect x="585" y="281" width="1" height="23" fill="#ff0000"/>
<rect x="584" y="285" width="3" height="15" fill="#ff0000"/>
<rect x="585" y="286" width="1" height="13" fill="#ff4500"/>
<rect x="589" y="278" width="1" height="71" fill="#32cd32"/>
<rect x="588" y="285" width="3" height="39" fill="#32cd32"/>
<rect x="593" y="306" width="1" height="27" fill="#ff0000"/>
<rect x="592" y="321" width="3" height="2" fill="#ff0000"/>
<rect x="597" y="302" width="1" height="21" fill="#ff0000"/>
<rect x="596" y="306" width="3" height="17" fill="#ff0000"/>
<rect x="597" y="307" width="1" height="15" fill="#ff4500"/>
<rect x="601" y="269" width="1" height="49" fill="#ff0000"/>
<rect x="600" y="278" width="3" height="31" fill="#ff0000"/>
<rect x="601" y="279" width="1" height="29" fill="#ff4500"/>
<rect x="605" y="278" width="1" height="27" fill="#32cd32"/>
<rect x="604" y="278" width="3" height="15" fill="#32cd32"/>
<rect x="609" y="279" width="1" height="18" fill="#ff0000"/>
<rect x="608" y="280" width="3" height="13" fill="#ff0000"/>
<rect x="609" y="281" width="1" height="11" fill="#ff4500"/>
<rect x="613" y="264" width="1" height="38" fill="#32cd32"/>
<rect x="612" y="280" width="3" height="19" fill="#32cd32"/>
<rect x="617" y="227" width="1" height="78" fill="#ff0000"/>
<rect x="616" y="232" width="3" height="67" fill="#ff0000"/>
<rect x="617" y="233" width="1" height="65" fill="#ff4500"/>
<rect x="621" y="231" width="1" height="15" fill="#32cd32"/>
<rect x="620" y="232" width="3" height="10" fill="#32cd32"/>
<rect x="625" y="220" width="1" height="25" fill="#ff0000"/>
<rect x="624" y="225" width="3" height="18" fill="#ff0000"/>
<rect x="625" y="226" width="1" height="16" fill="#ff4500"/>
<rect x="629" y="218" width="1" height="14" fill="#32cd32"/>
<rect x="628" y="222" width="3" height="9" fill="#32cd32"/>
<rect x="633" y="226" width="1" height="18" fill="#32cd32"/>
<rect x="632" y="229" width="3" height="7" fill="#32cd32"/>
<rect x="637" y="211" width="1" height="27" fill="#ff0000"/>
<rect x="636" y="220" width="3" height="16" fill="#ff0000"/>
<rect x="637" y="221" width="1" height="14" fill="#ff4500"/>
<rect x="641" y="204" width="1" height="22" fill="#ff0000"/>
<rect x="640" y="213" width="3" height="8" fill="#ff0000"/>
<rect x="641" y="214" width="1" height="6" fill="#ff4500"/>
<rect x="645" y="182" width="1" height="35" fill="#ff0000"/>
<rect x="644" y="191" width="3" height="24" fill="#ff0000"/>
<rect x="645" y="192" width="1" height="22" fill="#ff4500"/>
<rect x="649" y="187" width="1" height="16" fill="#ff0000"/>
<rect x="648" y="190" width="3" height="3" fill="#ff0000"/>
<rect x="653" y="187" width="1" height="15" fill="#32cd32"/>
<rect x="652" y="191" width="3" height="4" fill="#32cd32"/>
<rect x="657" y="188" width="1" height="12" fill="#ff0000"/>
<rect x="656" y="192" width="3" height="3" fill="#ff0000"/>
<rect x="661" y="175" width="1" height="45" fill="#32cd32"/>
<rect x="660" y="192" width="3" height="19" fill="#32cd32"/>
<rect x="665" y="205" width="1" height="39" fill="#32cd32"/>
<rect x="664" y="210" width="3" height="29" fill="#32cd32"/>
<rect x="669" y="227" width="1" height="25" fill="#ff0000"/>
<rect x="668" y="228" width="3" height="11" fill="#ff0000"/>
<rect x="669" y="229" width="1" height="9" fill="#ff4500"/>
<rect x="673" y="225" width="1" height="48" fill="#32cd32"/>
<rect x="672" y="228" width="3" height="38" fill="#32cd32"/>
<rect x="677" y="258" width="1" height="12" fill="#ff0000"/>
<rect x="676" y="259" width="3" height="7" fill="#ff0000"/>
<rect x="677" y="260" width="1" height="5" fill="#ff4500"/>
<rect x="681" y="237" width="1" height="27" fill="#ff0000"/>
<rect x="680" y="243" width="3" height="18" fill="#ff0000"/>
<rect x="681" y="244" width="1" height="16" fill="#ff4500"/>
<rect x="685" y="228" width="1" height="38" fill="#32cd32"/>
<rect x="684" y="242" width="3" height="18" fill="#32cd32"/>
<rect x="689" y="215" width="1" height="45" fill="#ff0000"/>
<rect x="688" y="242" width="3" height="18" fill="#ff0000"/>
<rect x="689" y="243" width="1" height="16" fill="#ff4500"/>
<rect x="693" y="224" width="1" height="22" fill="#ff0000"/>
<rect x="692" y="242" width="3" height="2" fill="#ff0000"/>
<rect x="697" y="231" width="1" height="24" fill="#32cd32"/>
<rect x="696" y="242" width="3" height="6" fill="#32cd32"/>
<rect x="701" y="236" width="1" height="20" fill="#ff0000"/>
<rect x="700" y="239" width="3" height="9" fill="#ff0000"/>
<rect x="701" y="240" width="1" height="7" fill="#ff4500"/>
<rect x="705" y="226" width="1" height="19" fill="#ff0000"/>
<rect x="704" y="232" width="3" height="9" fill="#ff0000"/>
<rect x="705" y="233" width="1" height="7" fill="#ff4500"/>
<rect x="709" y="208" width="1" height="36" fill="#ff0000"/>
<rect x="708" y="224" width="3" height="11" fill="#ff0000"/>
<rect x="709" y="225" width="1" height="9" fill="#ff4500"/>
<rect x="713" y="219" width="1" height="21" fill="#32cd32"/>
<rect x="712" y="223" width="3" height="12" fill="#32cd32"/>
<rect x="717" y="227" width="1" height="19" fill="#ff0000"/>
<rect x="716" y="231" width="3" height="4" fill="#ff0000"/>
<rect x="717" y="232" width="1" height="2" fill="#ff4500"/>
<rect x="721" y="228" width="1" height="11" fill="#32cd32"/>
<rect x="720" y="231" width="3" height="2" fill="#32cd32"/>
<rect x="725" y="226" width="1" height="12" fill="#ff0000"/>
<rect x="724" y="229" width="3" height="5" fill="#ff0000"/>
<rect x="725" y="230" width="1" height="3" fill="#ff4500"/>
<rect x="729" y="218" width="1" height="14" fill="#ff0000"/>
<rect x="728" y="225" width="3" height="6" fill="#ff0000"/>
<rect x="729" y="226" width="1" height="4" fill="#ff4500"/>
<rect x="733" y="221" width="1" height="63" fill="#32cd32"/>
<rect x="732" y="225" width="3" height="56" fill="#32cd32"/>
<rect x="737" y="270" width="1" height="21" fill="#32cd32"/>
<rect x="736" y="280" width="3" height="3" fill="#32cd32"/>
<rect x="741" y="271" width="1" height="16" fill="#32cd32"/>
<rect x="740" y="282" width="3" height="5" fill="#32cd32"/>
<rect x="745" y="283" width="1" height="17" fill="#32cd32"/>
<rect x="744" y="285" width="3" height="14" fill="#32cd32"/>
<rect x="749" y="287" width="1" height="14" fill="#32cd32"/>
<rect x="748" y="291" width="3" height="8" fill="#32cd32"/>
<rect x="753" y="275" width="1" height="24" fill="#ff0000"/>
<rect x="752" y="277" width="3" height="22" fill="#ff0000"/>
<rect x="753" y="278" width="1" height="20" fill="#ff4500"/>
<rect x="757" y="250" width="1" height="30" fill="#ff0000"/>
<rect x="756" y="265" width="3" height="14" fill="#ff0000"/>
<rect x="757" y="266" width="1" height="12" fill="#ff4500"/>
<rect x="761" y="257" width="1" height="24" fill="#32cd32"/>
<rect x="760" y="265" width="3" height="13" fill="#32cd32"/>
<rect x="765" y="273" width="1" height="18" fill="#32cd32"/>
<rect x="764" y="276" width="3" height="13" fill="#32cd32"/>
<rect x="769" y="281" width="1" height="21" fill="#32cd32"/>
<rect x="768" y="288" width="3" height="11" fill="#32cd32"/>
<rect x="773" y="291" width="1" height="11" fill="#ff0000"/>
<rect x="772" y="294" width="3" height="5" fill="#ff0000"/>
<rect x="773" y="295" width="1" height="3" fill="#ff4500"/>
<rect x="777" y="284" width="1" height="20" fill="#32cd32"/>
<rect x="776" y="294" width="3" height="5" fill="#32cd32"/>
<rect x="781" y="285" width="1" height="34" fill="#32cd32"/>
<rect x="780" y="297" width="3" height="11" fill="#32cd32"/>
<rect x="785" y="290" width="1" height="37" fill="#32cd32"/>
<rect x="784" y="306" width="3" height="19" fill="#32cd32"/>
<rect x="789" y="313" width="1" height="21" fill="#32cd32"/>
<rect x="788" y="324" width="3" height="8" fill="#32cd32"/>
<rect x="793" y="319" width="1" height="24" fill="#ff0000"/>
<rect x="792" y="326" width="3" height="5" fill="#ff0000"/>
<rect x="793" y="327" width="1" height="3" fill="#ff4500"/>
<rect x="797" y="322" width="1" height="16" fill="#32cd32"/>
<rect x="796" y="326" width="3" height="3" fill="#32cd32"/>
<rect x="801" y="321" width="1" height="11" fill="#ff0000"/>
<rect x="800" y="323" width="3" height="6" fill="#ff0000"/>
<rect x="801" y="324" width="1" height="4" fill="#ff4500"/>
<rect x="805" y="322" width="1" height="29" fill="#32cd32"/>
<rect x="804" y="324" width="3" height="6" fill="#32cd32"/>
<rect x="809" y="326" width="1" height="24" fill="#32cd32"/>
<rect x="808" y="328" width="3" height="16" fill="#32cd32"/>
<rect x="813" y="334" width="1" height="15" fill="#32cd32"/>
<rect x="812" y="342" width="3" height="3" fill="#32cd32"/>
<rect x="817" y="247" width="1" height="101" fill="#ff0000"/>
<rect x="816" y="258" width="3" height="87" fill="#ff0000"/>
<rect x="817" y="259" width="1" height="85" fill="#ff4500"/>
<rect x="821" y="257" width="1" height="13" fill="#32cd32"/>
<rect x="820" y="257" width="3" height="4" fill="#32cd32"/>
<rect x="825" y="243" width="1" height="18" fill="#ff0000"/>
<rect x="824" y="253" width="3" height="8" fill="#ff0000"/>
<rect x="825" y="254" width="1" height="6" fill="#ff4500"/>
<rect x="829" y="239" width="1" height="41" fill="#32cd32"/>
<rect x="828" y="253" width="3" height="27" fill="#32cd32"/>
<rect x="833" y="235" width="1" height="47" fill="#ff0000"/>
<rect x="832" y="250" width="3" height="30" fill="#ff0000"/>
<rect x="833" y="251" width="1" height="28" fill="#ff4500"/>
<rect x="837" y="248" width="1" height="20" fill="#ff0000"/>
<rect x="836" y="248" width="3" height="3" fill="#ff0000"/>
<rect x="841" y="238" width="1" height="32" fill="#ff0000"/>
<rect x="840" y="246" width="3" height="4" fill="#ff0000"/>
<rect x="841" y="247" width="1" height="2" fill="#ff4500"/>
<rect x="845" y="238" width="1" height="16" fill="#ff0000"/>
<rect x="844" y="238" width="3" height="9" fill="#ff0000"/>
<rect x="845" y="239" width="1" height="7" fill="#ff4500"/>
<rect x="849" y="236" width="1" height="13" fill="#32cd32"/>
<rect x="848" y="238" width="3" height="8" fill="#32cd32"/>
<rect x="853" y="241" width="1" height="34" fill="#32cd32"/>
<rect x="852" y="244" width="3" height="20" fill="#32cd32"/>
<rect x="857" y="254" width="1" height="42" fill="#32cd32"/>
<rect x="856" y="261" width="3" height="29" fill="#32cd32"/>
<rect x="861" y="283" width="1" height="25" fill="#32cd32"/>
<rect x="860" y="289" width="3" height="14" fill="#32cd32"/>
<rect x="865" y="299" width="1" height="18" fill="#32cd32"/>
<rect x="864" y="301" width="3" height="15" fill="#32cd32"/>
<rect x="869" y="274" width="1" height="25" fill="#ff0000"/>
<rect x="868" y="277" width="3" height="19" fill="#ff0000"/>
<rect x="869" y="278" width="1" height="17" fill="#ff4500"/>
<rect x="873" y="262" width="1" height="23" fill="#ff0000"/>
<rect x="872" y="267" width="3" height="12" fill="#ff0000"/>
<rect x="873" y="268" width="1" height="10" fill="#ff4500"/>
<rect x="877" y="254" width="1" height="36" fill="#32cd32"/>
<rect x="876" y="267" width="3" height="23" fill="#32cd32"/>
<rect x="881" y="277" width="1" height="30" fill="#ff0000"/>
<rect x="880" y="281" width="3" height="9" fill="#ff0000"/>
<rect x="881" y="282" width="1" height="7" fill="#ff4500"/>
<rect x="885" y="271" width="1" height="23" fill="#ff0000"/>
<rect x="884" y="282" width="3" height="6" fill="#ff0000"/>
<rect x="885" y="283" width="1" height="4" fill="#ff4500"/>
<rect x="889" y="268" width="1" height="21" fill="#32cd32"/>
<rect x="888" y="282" width="3" height="5" fill="#32cd32"/>
<rect x="893" y="262" width="1" height="28" fill="#ff0000"/>
<rect x="892" y="264" width="3" height="23" fill="#ff0000"/>
<rect x="893" y="265" width="1" height="21" fill="#ff4500"/>
<rect x="897" y="246" width="1" height="22" fill="#ff0000"/>
<rect x="896" y="248" width="3" height="19" fill="#ff0000"/>
<rect x="897" y="249" width="1" height="17" fill="#ff4500"/>
<rect x="901" y="221" width="1" height="38" fill="#ff0000"/>
<rect x="900" y="231" width="3" height="19" fill="#ff0000"/>
<rect x="901" y="232" width="1" height="17" fill="#ff4500"/>
<rect x="905" y="222" width="1" height="32" fill="#32cd32"/>
<rect x="904" y="231" width="3" height="17" fill="#32cd32"/>
<rect x="909" y="243" width="1" height="38" fill="#32cd32"/>
<rect x="908" y="246" width="3" height="34" fill="#32cd32"/>
<rect x="913" y="270" width="1" height="38" fill="#32cd32"/>
<rect x="912" y="279" width="3" height="9" fill="#32cd32"/>
<rect x="917" y="282" width="1" height="17" fill="#32cd32"/>
<rect x="916" y="286" width="3" height="12" fill="#32cd32"/>
<rect x="921" y="293" width="1" height="16" fill="#ff0000"/>
<rect x="920" y="295" width="3" height="3" fill="#ff0000"/>
<rect x="925" y="283" width="1" height="22" fill="#ff0000"/>
<rect x="924" y="285" width="3" height="11" fill="#ff0000"/>
<rect x="925" y="286" width="1" height="9" fill="#ff4500"/>
<rect x="929" y="269" width="1" height="35" fill="#32cd32"/>
<rect x="928" y="285" width="3" height="19" fill="#32cd32"/>
<rect x="933" y="285" width="1" height="28" fill="#ff0000"/>
<rect x="932" y="286" width="3" height="18" fill="#ff0000"/>
<rect x="933" y="287" width="1" height="16" fill="#ff4500"/>
<rect x="937" y="272" width="1" height="17" fill="#32cd32"/>
<rect x="936" y="286" width="3" height="2" fill="#32cd32"/>
<rect x="941" y="277" width="1" height="13" fill="#ff0000"/>
<rect x="940" y="285" width="3" height="4" fill="#ff0000"/>
<rect x="941" y="286" width="1" height="2" fill="#ff4500"/>
<rect x="945" y="277" width="1" height="23" fill="#32cd32"/>
<rect x="944" y="285" width="3" height="10" fill="#32cd32"/>
<rect x="949" y="282" width="1" height="24" fill="#32cd32"/>
<rect x="948" y="294" width="3" height="4" fill="#32cd32"/>
<rect x="953" y="237" width="1" height="63" fill="#ff0000"/>
<rect x="952" y="240" width="3" height="58" fill="#ff0000"/>
<rect x="953" y="241" width="1" height="56" fill="#ff4500"/>
<rect x="957" y="226" width="1" height="28" fill="#32cd32"/>
<rect x="956" y="240" width="3" height="13" fill="#32cd32"/>
<rect x="961" y="243" width="1" height="31" fill="#32cd32"/>
<rect x="960" y="252" width="3" height="9" fill="#32cd32"/>
<rect x="965" y="250" width="1" height="16" fill="#ff0000"/>
<rect x="964" y="258" width="3" height="3" fill="#ff0000"/>
<rect x="969" y="252" width="1" height="15" fill="#32cd32"/>
<rect x="968" y="258" width="3" height="2" fill="#32cd32"/>
<rect x="973" y="251" width="1" height="21" fill="#32cd32"/>
<rect x="972" y="259" width="3" height="4" fill="#32cd32"/>
<rect x="977" y="224" width="1" height="43" fill="#ff0000"/>
<rect x="976" y="248" width="3" height="15" fill="#ff0000"/>
<rect x="977" y="249" width="1" height="13" fill="#ff4500"/>
<rect x="981" y="243" width="1" height="16" fill="#ff0000"/>
<rect x="980" y="245" width="3" height="4" fill="#ff0000"/>
<rect x="981" y="246" width="1" height="2" fill="#ff4500"/>
<rect x="985" y="216" width="1" height="37" fill="#ff0000"/>
<rect x="984" y="217" width="3" height="29" fill="#ff0000"/>
<rect x="985" y="218" width="1" height="27" fill="#ff4500"/>
<rect x="989" y="200" width="1" height="44" fill="#ff0000"/>
<rect x="988" y="206" width="3" height="34" fill="#ff0000"/>
<rect x="989" y="207" width="1" height="32" fill="#ff4500"/>
<rect x="993" y="203" width="1" height="14" fill="#32cd32"/>
<rect x="992" y="206" width="3" height="8" fill="#32cd32"/>
<rect x="997" y="202" width="1" height="35" fill="#32cd32"/>
<rect x="996" y="212" width="3" height="22" fill="#32cd32"/>
<rect x="1001" y="212" width="1" height="32" fill="#ff0000"/>
<rect x="1000" y="230" width="3" height="4" fill="#ff0000"/>
<rect x="1001" y="231" width="1" height="2" fill="#ff4500"/>
<rect x="1005" y="224" width="1" height="38" fill="#32cd32"/>
<rect x="1004" y="230" width="3" height="30" fill="#32cd32"/>
<rect x="1009" y="255" width="1" height="25" fill="#32cd32"/>
<rect x="1008" y="258" width="3" height="21" fill="#32cd32"/>
<rect x="1013" y="263" width="1" height="17" fill="#ff0000"/>
<rect x="1012" y="265" width="3" height="14" fill="#ff0000"/>
<rect x="1013" y="266" width="1" height="12" fill="#ff4500"/>
<rect x="1017" y="260" width="1" height="14" fill="#32cd32"/>
<rect x="1016" y="266" width="3" height="3" fill="#32cd32"/>
<rect x="1021" y="244" width="1" height="28" fill="#ff0000"/>
<rect x="1020" y="246" width="3" height="23" fill="#ff0000"/>
<rect x="1021" y="247" width="1" height="21" fill="#ff4500"/>
<rect x="1025" y="236" width="1" height="59" fill="#32cd32"/>
<rect x="1024" y="247" width="3" height="45" fill="#32cd32"/>
<rect x="1029" y="286" width="1" height="22" fill="#32cd32"/>
<rect x="1028" y="290" width="3" height="14" fill="#32cd32"/>
<rect x="1033" y="298" width="1" height="19" fill="#ff0000"/>
<rect x="1032" y="300" width="3" height="5" fill="#ff0000"/>
<rect x="1033" y="301" width="1" height="3" fill="#ff4500"/>
<rect x="1037" y="293" width="1" height="16" fill="#ff0000"/>
<rect x="1036" y="295" width="3" height="6" fill="#ff0000"/>
<rect x="1037" y="296" width="1" height="4" fill="#ff4500"/>
<rect x="21" y="113" width="1" height="9" fill="#f00"/><rect x="17" y="113" width="1" height="4" fill="#32cd32"/><rect x="33" y="113" width="1" height="3" fill="#f00"/><rect x="5" y="116" width="1" height="1" fill="#f00"/><rect x="6" y="115" width="1" height="1" fill="#f00"/>
<rect x="1023" y="233" width="138" height="2" fill="#f00"/>
<rect x="871" y="266" width="316" height="2" fill="#0f0"/>
<rect x="865" y="316" width="316" height="2" fill="#00f"/>
</g>
<path fill="none" shape-rendering="crispEdges" stroke="#ff0000" stroke-width="1" d="M5.5 458V460M6.5 457V458M7.5 456V457M8.5 455V456M9.5 454V455M10.5 453V454M11.5 452V453M12.5 451V452M13.5 450V451M14.5 449V450M15.5 448V449M16.5 448V449M17.5 447V448M18.5 446V447M19.5 445V446M20.5 445V446M21.5 444V445M22.5 444V445M23.5 444V445M24.5 443V444M25.5 443V444M26.5 443V444M27.5 443V444M28.5 443V444M29.5 443V444M30.5 443V444M31.5 443V444M32.5 443V444M33.5 443V444M34.5 443V444M35.5 443V444M36.5 443V444M37.5 443V444M38.5 443V444M39.5 443V444M40.5 443V444M41.5 443V444M42.5 443V444M43.5 443V444M44.5 444V445M45.5 444V445M46.5 444V445M47.5 444V445M48.5 445V446M49.5 445V446M50.5 445V446M51.5 445V446M52.5 445V446M53.5 446V447M54.5 446V447M55.5 446V447M56.5 446V447M57.5 446V447M58.5 446V447M59.5 446V447M60.5 447V448M61.5 447V448M62.5 447V448M63.5 447V448M64.5 447V448M65.5 447V448M66.5 447V448M67.5 447V448M68.5 447V448M69.5 447V448M70.5 447V448M71.5 447V448M72.5 447V448M73.5 447V448M74.5 447V448M75.5 447V448M76.5 448V449M77.5 448V449M78.5 448V449M79.5 449V450M80.5 449V450M81.5 449V450M82.5 450V451M83.5 450V451M84.5 450V451M85.5 451V452M86.5 451V452M87.5 452V453M88.5 452V453M89.5 453V454M90.5 453V454M91.5 454V455M92.5 454V455M93.5 455V456M94.5 456V457M95.5 456V457M96.5 457V459M97.5 458V459M98.5 459V461M99.5 460V461M100.5 461V463M101.5 462V463M102.5 463V465M103.5 464V465M104.5 465V467M105.5 466V467M106.5 467V469M107.5 468V469M108.5 469V471M109.5 470V471M110.5 471V473M111.5 472V473M112.5 473V475M113.5 475V476M114.5 476V477M115.5 477V478M116.5 478V479M117.5 479V480M118.5 480V481M119.5 481V482M120.5 482V483M121.5 483V484M122.5 484V486M123.5 486V487M124.5 487V488M125.5 488V489M126.5 489V490M127.5 490V491M128.5 491V492M129.5 492V493M130.5 493V494M131.5 494V495M132.5 495V496M133.5 496V497M134.5 497V498M135.5 498V499M136.5 499V500M137.5 500V501M138.5 501V502M139.5 502V503M140.5 502V503M141.5 502V503M142.5 503V504M143.5 503V504M144.5 504V505M145.5 504V505M146.5 504V505M147.5 504V505M148.5 505V506M149.5 505V506M150.5 504V505M151.5 504V505M152.5 504V505M153.5 504V505M154.5 503V504M155.5 503V504M156.5 502V503M157.5 502V503M158.5 502V503M159.5 501V502M160.5 501V502M161.5 500V501M162.5 500V501M163.5 499V500M164.5 499V500M165.5 498V499M166.5 498V499M167.5 497V498M168.5 497V498M169.5 496V497M170.5 496V497M171.5 496V497M172.5 495V496M173.5 495V496M174.5 495V496M175.5 495V496M176.5 494V495M177.5 494V495M178.5 494V495M179.5 494V495M180.5 494V495M181.5 494V495M182.5 494V495M183.5 494V495M184.5 494V495M185.5 494V495M186.5 494V495M187.5 494V495M188.5 495V496M189.5 495V496M190.5 495V496M191.5 495V496M192.5 495V496M193.5 496V497M194.5 496V497M195.5 496V497M196.5 496V497M197.5 496V497M198.5 497V498M199.5 497V498M200.5 497V498M201.5 497V498M202.5 497V498M203.5 497V498M204.5 497V498M205.5 497V498M206.5 497V498M207.5 497V498M208.5 497V498M209.5 497V498M210.5 498V499M211.5 498V499M212.5 499V500M213.5 499V500M214.5 499V500M215.5 500V501M216.5 500V501M217.5 501V502M218.5 501V502M219.5 502V503M220.5 502V503M221.5 503V504M222.5 503V504M223.5 504V505M224.5 504V505M225.5 505V506M226.5 505V506M227.5 506V507M228.5 506V507M229.5 507V508M230.5 508V509M231.5 508V509M232.5 509V510M233.5 510V511M234.5 511V512M235.5 511V512M236.5 512V513M237.5 513V514M238.5 513V514M239.5 514V515M240.5 514V515M241.5 515V516M242.5 515V516M243.5 516V517M244.5 516V517M245.5 517V518M246.5 517V518M247.5 518V519M248.5 518V519M249.5 518V519M250.5 519V520M251.5 519V520M252.5 519V520M253.5 519V520M254.5 519V520M255.5 520V521M256.5 520V521M257.5 520V521M258.5 520V521M259.5 520V521M260.5 520V521M261.5 520V521M262.5 520V521M263.5 520V521M264.5 520V521M265.5 520V521M266.5 520V521M267.5 520V521M268.5 520V521M269.5 519V520M270.5 519V520M271.5 518V519M272.5 518V519M273.5 518V519M274.5 517V518M275.5 517V518M276.5 516V517M277.5 516V517M278.5 515V516M279.5 514V515M280.5 514V515M281.5 513V514M282.5 512V513M283.5 512V513M284.5 511V512M285.5 510V511M286.5 510V511M287.5 509V510M288.5 508V509M289.5 507V508M290.5 507V508M291.5 506V507M292.5 505V506M293.5 504V505M294.5 504V505M295.5 503V504M296.5 502V503M297.5 502V503M298.5 501V502M299.5 501V502M300.5 501V502M301.5 500V501M302.5 500V501M303.5 499V500M304.5 499V500M305.5 499V500M306.5 499V500M307.5 499V500M308.5 498V499M309.5 498V499M310.5 498V499M311.5 498V499M312.5 498V499M313.5 498V499M314.5 498V499M315.5 498V499M316.5 498V499M317.5 498V499M318.5 498V499M319.5 498V499M320.5 498V499M321.5 498V499M322.5 498V499M323.5 498V499M324.5 498V499M325.5 499V500M326.5 499V500M327.5 499V500M328.5 499V500M329.5 500V501M330.5 500V501M331.5 500V501M332.5 500V501M333.5 501V502M334.5 501V502M335.5 501V502M336.5 501V502M337.5 501V502M338.5 502V503M339.5 502V503M340.5 502V503M341.5 502V503M342.5 503V504M343.5 503V504M344.5 503V504M345.5 503V504M346.5 503V504M347.5 504V505M348.5 503V504M349.5 503V504M350.5 503V504M351.5 502V503M352.5 502V503M353.5 501V502M354.5 501V502M355.5 500V501M356.5 500V501M357.5 499V500M358.5 498V499M359.5 497V498M360.5 496V497M361.5 496V497M362.5 495V496M363.5 494V495M364.5 493V494M365.5 492V493M366.5 490V492M367.5 489V490M368.5 488V489M369.5 486V488M370.5 485V486M371.5 484V485M372.5 482V484M373.5 481V482M374.5 480V481M375.5 479V480M376.5 477V479M377.5 476V477M378.5 475V476M379.5 474V475M380.5 472V474M381.5 472V473M382.5 470V472M383.5 470V471M384.5 468V470M385.5 468V469M386.5 466V468M387.5 466V467M388.5 465V466M389.5 464V465M390.5 464V465M391.5 464V465M392.5 463V464M393.5 463V464M394.5 462V463M395.5 462V463M396.5 462V463M397.5 461V462M398.5 461V462M399.5 461V462M400.5 461V462M401.5 461V462M402.5 461V462M403.5 461V462M404.5 461V462M405.5 460V461M406.5 460V461M407.5 460V461M408.5 461V462M409.5 461V462M410.5 461V462M411.5 461V462M412.5 461V462M413.5 461V462M414.5 461V462M415.5 461V462M416.5 461V462M417.5 461V462M418.5 461V462M419.5 461V462M420.5 460V461M421.5 460V461M422.5 460V461M423.5 460V461M424.5 460V461M425.5 460V461M426.5 459V460M427.5 459V460M428.5 459V460M429.5 459V460M430.5 459V460M431.5 458V459M432.5 458V459M433.5 458V459M434.5 458V459M435.5 458V459M436.5 457V458M437.5 457V458M438.5 457V458M439.5 456V457M440.5 456V457M441.5 455V456M442.5 455V456M443.5 454V455M444.5 454V455M445.5 454V455M446.5 453V454M447.5 453V454M448.5 452V453M449.5 451V452M450.5 451V452M451.5 450V451M452.5 450V451M453.5 449V450M454.5 448V449M455.5 448V449M456.5 447V448M457.5 446V447M458.5 446V447M459.5 446V447M460.5 445V446M461.5 445V446M462.5 445V446M463.5 444V445M464.5 444V445M465.5 444V445M466.5 443V444M467.5 443V444M468.5 443V444M469.5 443V444M470.5 443V444M471.5 443V444M472.5 443V444M473.5 442V443M474.5 443V444M475.5 443V444M476.5 443V444M477.5 444V445M478.5 444V445M479.5 444V445M480.5 445V446M481.5 446V447M482.5 447V448M483.5 448V449M484.5 449V450M485.5 450V451M486.5 451V452M487.5 452V453M488.5 453V454M489.5 454V455M490.5 455V456M491.5 456V458M492.5 458V459M493.5 459V461M494.5 461V462M495.5 462V463M496.5 463V465M497.5 465V466M498.5 466V468M499.5 468V470M500.5 470V471M501.5 471V473M502.5 473V475M503.5 475V476M504.5 476V478M505.5 478V479M506.5 479V481M507.5 481V482M508.5 482V484M509.5 484V485M510.5 485V487M511.5 487V488M512.5 488V490M513.5 490V491M514.5 491V493M515.5 493V494M516.5 494V496M517.5 496V498M518.5 498V499M519.5 499V501M520.5 501V502M521.5 502V504M522.5 504V506M523.5 506V507M524.5 507V509M525.5 509V510M526.5 510V512M527.5 512V513M528.5 513V515M529.5 515V516M530.5 516V517M531.5 517V519M532.5 519V520M533.5 520V522M534.5 522V523M535.5 523V524M536.5 524V525M537.5 525V526M538.5 526V527M539.5 527V528M540.5 528V529M541.5 529V530M542.5 530V531M543.5 531V532M544.5 532V533M545.5 533V534M546.5 534V535M547.5 535V536M548.5 535V536M549.5 536V537M550.5 536V537M551.5 537V538M552.5 537V538M553.5 537V538M554.5 537V538M555.5 536V537M556.5 536V537M557.5 536V537M558.5 535V536M559.5 535V536M560.5 535V536M561.5 534V535M562.5 534V535M563.5 533V534M564.5 533V534M565.5 532V533M566.5 532V533M567.5 530V532M568.5 530V531M569.5 528V530M570.5 528V529M571.5 526V528M572.5 525V526M573.5 524V525M574.5 522V524M575.5 521V522M576.5 519V521M577.5 518V519M578.5 516V518M579.5 515V516M580.5 513V515M581.5 512V513M582.5 510V512M583.5 508V510M584.5 507V508M585.5 505V507M586.5 503V505M587.5 502V503M588.5 500V502M589.5 499V500M590.5 498V499M591.5 497V498M592.5 496V497M593.5 495V496M594.5 493V495M595.5 492V493M596.5 491V492M597.5 490V491M598.5 489V490M599.5 488V489M600.5 486V488M601.5 486V487M602.5 484V486M603.5 484V485M604.5 482V484M605.5 482V483M606.5 480V482M607.5 480V481M608.5 478V480M609.5 478V479M610.5 477V478M611.5 476V477M612.5 475V476M613.5 474V475M614.5 473V474M615.5 472V473M616.5 472V473M617.5 471V472M618.5 470V471M619.5 469V470M620.5 468V469M621.5 467V468M622.5 466V467M623.5 465V466M624.5 463V465M625.5 462V463M626.5 461V462M627.5 460V461M628.5 459V460M629.5 458V459M630.5 456V458M631.5 455V456M632.5 454V455M633.5 453V454M634.5 452V453M635.5 451V452M636.5 450V451M637.5 449V450M638.5 448V449M639.5 447V448M640.5 445V447M641.5 444V445M642.5 443V444M643.5 442V443M644.5 441V442M645.5 439V441M646.5 438V439M647.5 437V438M648.5 436V437M649.5 435V436M650.5 433V435M651.5 432V433M652.5 431V432M653.5 430V431M654.5 429V430M655.5 428V429M656.5 427V428M657.5 426V427M658.5 425V426M659.5 424V425M660.5 424V425M661.5 423V424M662.5 423V424M663.5 422V423M664.5 422V423M665.5 421V422M666.5 421V422M667.5 421V422M668.5 420V421M669.5 420V421M670.5 420V421M671.5 421V422M672.5 421V422M673.5 421V422M674.5 422V423M675.5 422V423M676.5 422V423M677.5 423V424M678.5 424V425M679.5 425V426M680.5 425V426M681.5 426V427M682.5 427V428M683.5 428V429M684.5 429V430M685.5 430V431M686.5 431V432M687.5 432V433M688.5 433V434M689.5 434V435M690.5 435V436M691.5 436V437M692.5 437V439M693.5 439V440M694.5 440V441M695.5 441V442M696.5 442V443M697.5 443V444M698.5 444V445M699.5 445V446M700.5 446V447M701.5 447V448M702.5 448V449M703.5 449V450M704.5 449V450M705.5 450V451M706.5 451V452M707.5 452V453M708.5 452V453M709.5 453V454M710.5 453V454M711.5 454V455M712.5 454V455M713.5 455V456M714.5 455V456M715.5 456V457M716.5 456V457M717.5 456V457M718.5 456V457M719.5 456V457M720.5 457V458M721.5 457V458M722.5 457V458M723.5 457V458M724.5 457V458M725.5 457V458M726.5 457V458M727.5 457V458M728.5 458V459M729.5 458V459M730.5 458V459M731.5 458V459M732.5 458V459M733.5 459V460M734.5 459V460M735.5 459V460M736.5 459V460M737.5 459V460M738.5 460V461M739.5 461V462M740.5 461V462M741.5 462V463M742.5 463V464M743.5 463V464M744.5 464V465M745.5 465V466M746.5 465V466M747.5 466V467M748.5 467V468M749.5 468V469M750.5 469V470M751.5 470V471M752.5 471V472M753.5 472V473M754.5 473V474M755.5 474V475M756.5 474V475M757.5 475V476M758.5 476V477M759.5 477V478M760.5 478V479M761.5 479V480M762.5 479V480M763.5 480V481M764.5 481V482M765.5 482V483M766.5 483V484M767.5 484V485M768.5 484V485M769.5 485V486M770.5 485V486M771.5 486V487M772.5 486V487M773.5 487V488M774.5 487V488M775.5 488V489M776.5 488V489M777.5 489V490M778.5 489V490M779.5 490V491M780.5 490V491M781.5 491V492M782.5 491V492M783.5 492V493M784.5 492V493M785.5 493V494M786.5 493V494M787.5 494V495M788.5 494V495M789.5 494V495M790.5 495V496M791.5 495V496M792.5 496V497M793.5 496V497M794.5 497V498M795.5 497V498M796.5 498V499M797.5 498V499M798.5 499V500M799.5 499V500M800.5 500V501M801.5 500V501M802.5 501V502M803.5 501V502M804.5 502V503M805.5 503V504M806.5 503V504M807.5 504V505M808.5 504V505M809.5 505V506M810.5 505V506M811.5 506V507M812.5 506V507M813.5 506V507M814.5 506V507M815.5 506V507M816.5 506V507M817.5 506V507M818.5 505V506M819.5 505V506M820.5 504V505M821.5 504V505M822.5 503V504M823.5 503V504M824.5 502V503M825.5 501V502M826.5 500V501M827.5 499V500M828.5 498V499M829.5 497V498M830.5 496V497M831.5 495V496M832.5 494V495M833.5 493V494M834.5 492V493M835.5 491V492M836.5 490V491M837.5 488V490M838.5 487V488M839.5 485V487M840.5 484V485M841.5 482V484M842.5 481V482M843.5 480V481M844.5 478V480M845.5 477V478M846.5 475V477M847.5 474V475M848.5 472V474M849.5 471V472M850.5 469V471M851.5 468V469M852.5 467V468M853.5 466V467M854.5 465V466M855.5 464V465M856.5 463V464M857.5 463V464M858.5 462V463M859.5 461V462M860.5 461V462M861.5 461V462M862.5 461V462M863.5 461V462M864.5 461V462M865.5 461V462M866.5 461V462M867.5 461V462M868.5 461V462M869.5 460V461M870.5 460V461M871.5 460V461M872.5 460V461M873.5 460V461M874.5 461V462M875.5 461V462M876.5 462V463M877.5 462V463M878.5 462V463M879.5 463V464M880.5 463V464M881.5 464V465M882.5 464V465M883.5 465V466M884.5 465V466M885.5 466V467M886.5 466V467M887.5 467V468M888.5 467V468M889.5 468V469M890.5 468V469M891.5 469V470M892.5 469V470M893.5 469V470M894.5 470V471M895.5 469V470M896.5 469V470M897.5 469V470M898.5 468V469M899.5 468V469M900.5 468V469M901.5 467V468M902.5 467V468M903.5 467V468M904.5 466V467M905.5 466V467M906.5 466V467M907.5 466V467M908.5 466V467M909.5 465V466M910.5 465V466M911.5 465V466M912.5 465V466M913.5 465V466M914.5 464V465M915.5 464V465M916.5 464V465M917.5 464V465M918.5 464V465M919.5 464V465M920.5 464V465M921.5 464V465M922.5 464V465M923.5 464V465M924.5 464V465M925.5 464V465M926.5 465V466M927.5 465V466M928.5 465V466M929.5 465V466M930.5 466V467M931.5 466V467M932.5 466V467M933.5 466V467M934.5 467V468M935.5 467V468M936.5 468V469M937.5 468V469M938.5 469V470M939.5 470V471M940.5 470V471M941.5 471V472M942.5 471V472M943.5 472V473M944.5 472V473M945.5 473V474M946.5 473V474M947.5 474V475M948.5 474V475M949.5 475V476M950.5 475V476M951.5 475V476M952.5 476V477M953.5 475V476M954.5 475V476M955.5 475V476M956.5 474V475M957.5 474V475M958.5 474V475M959.5 474V475M960.5 473V474M961.5 473V474M962.5 473V474M963.5 472V473M964.5 472V473M965.5 471V472M966.5 471V472M967.5 471V472M968.5 470V471M969.5 470V471M970.5 469V470M971.5 469V470M972.5 468V469M973.5 468V469M974.5 467V468M975.5 467V468M976.5 466V467M977.5 466V467M978.5 466V467M979.5 465V466M980.5 465V466M981.5 464V465M982.5 464V465M983.5 463V464M984.5 462V463M985.5 461V462M986.5 460V461M987.5 459V460M988.5 459V460M989.5 458V459M990.5 457V458M991.5 456V457M992.5 456V457M993.5 455V456M994.5 454V455M995.5 453V454M996.5 453V454M997.5 452V453M998.5 452V453M999.5 452V453M1000.5 451V452M1001.5 451V452M1002.5 450V451M1003.5 450V451M1004.5 450V451M1005.5 449V450M1006.5 449V450M1007.5 449V450M1008.5 449V450M1009.5 449V450M1010.5 449V450M1011.5 449V450M1012.5 449V450M1013.5 448V449M1014.5 449V450M1015.5 449V450M1016.5 449V450M1017.5 449V450M1018.5 450V451M1019.5 450V451M1020.5 450V451M1021.5 450V451M1022.5 451V452M1023.5 451V452M1024.5 452V453M1025.5 452V453M1026.5 453V455M1027.5 454V455M1028.5 455V457M1029.5 456V457M1030.5 457V459M1031.5 459V460M1032.5 460V461M1033.5 461V462M1034.5 462V463M1035.5 463V464M1036.5 464V465M1037.5 464V465"/>
<g shape-rendering="crispEdges">
<rect x="4.5" y="29.5" width="1304" height="374" fill="none" stroke="#000"/>
<rect x="4.5" y="405.5" width="1304" height="145" fill="none" stroke="#000"/>
</g>
<rect x="7" y="46" width="223" height="69" fill="#fff"/>
<rect x="5" y="63" width="1" height="14" fill="#f00" shape-rendering="crispEdges"/>
<text transform="translate(1313.8,41) scale(0.935,1)" style="font-size:10px;fill:#000;stroke:#000;stroke-width:0.12;text-rendering:geometricPrecision">1.16330</text>
<text transform="translate(1313.8,74) scale(0.935,1)" style="font-size:10px;fill:#000;stroke:#000;stroke-width:0.12;text-rendering:geometricPrecision">1.15950</text>
<text transform="translate(1313.8,107) scale(0.935,1)" style="font-size:10px;fill:#000;stroke:#000;stroke-width:0.12;text-rendering:geometricPrecision">1.15560</text>
<text transform="translate(1313.8,140) scale(0.935,1)" style="font-size:10px;fill:#000;stroke:#000;stroke-width:0.12;text-rendering:geometricPrecision">1.15170</text>
<text transform="translate(1313.8,173) scale(0.935,1)" style="font-size:10px;fill:#000;stroke:#000;stroke-width:0.12;text-rendering:geometricPrecision">1.14780</text>
<text transform="translate(1313.8,206) scale(0.935,1)" style="font-size:10px;fill:#000;stroke:#000;stroke-width:0.12;text-rendering:geometricPrecision">1.14390</text>
<text transform="translate(1313.8,239) scale(0.935,1)" style="font-size:10px;fill:#000;stroke:#000;stroke-width:0.12;text-rendering:geometricPrecision">1.14010</text>
<text transform="translate(1313.8,272) scale(0.935,1)" style="font-size:10px;fill:#000;stroke:#000;stroke-width:0.12;text-rendering:geometricPrecision">1.13620</text>
<text transform="translate(1313.8,305) scale(0.935,1)" style="font-size:10px;fill:#000;stroke:#000;stroke-width:0.12;text-rendering:geometricPrecision">1.13230</text>
<text transform="translate(1313.8,338) scale(0.935,1)" style="font-size:10px;fill:#000;stroke:#000;stroke-width:0.12;text-rendering:geometricPrecision">1.12840</text>
<text transform="translate(1313.8,371) scale(0.935,1)" style="font-size:10px;fill:#000;stroke:#000;stroke-width:0.12;text-rendering:geometricPrecision">1.12460</text>
<text transform="translate(1313.8,404) scale(0.935,1)" style="font-size:10px;fill:#000;stroke:#000;stroke-width:0.12;text-rendering:geometricPrecision">1.12070</text>
<rect x="1310" y="290" width="41" height="11" fill="#000" shape-rendering="crispEdges"/>
<text transform="translate(1313.8,299) scale(0.935,1)" style="font-size:10px;fill:#fff;stroke:#fff;stroke-width:0.12;text-rendering:geometricPrecision">1.13302</text>
<text transform="translate(1311.6,416) scale(0.925,1)" style="font-size:10px;fill:#000;stroke:#000;stroke-width:0.12;text-rendering:geometricPrecision">0.003847</text>
<text transform="translate(1311.6,474) scale(0.925,1)" style="font-size:10px;fill:#000;stroke:#000;stroke-width:0.12;text-rendering:geometricPrecision">0.00</text>
<text transform="translate(1311.6,547) scale(0.925,1)" style="font-size:10px;fill:#000;stroke:#000;stroke-width:0.12;text-rendering:geometricPrecision">-0.004856</text>
<text transform="translate(4.4,563) scale(0.945,1)" style="font-size:10px;fill:#000;stroke:#000;stroke-width:0.12;text-rendering:geometricPrecision">12 Oct 2018</text>
<text transform="translate(68.4,563) scale(0.945,1)" style="font-size:10px;fill:#000;stroke:#000;stroke-width:0.12;text-rendering:geometricPrecision">16 Oct 22:00</text>
<text transform="translate(132.4,563) scale(0.945,1)" style="font-size:10px;fill:#000;stroke:#000;stroke-width:0.12;text-rendering:geometricPrecision">19 Oct 14:00</text>
<text transform="translate(196.4,563) scale(0.945,1)" style="font-size:10px;fill:#000;stroke:#000;stroke-width:0.12;text-rendering:geometricPrecision">24 Oct 04:00</text>
<text transform="translate(260.4,563) scale(0.945,1)" style="font-size:10px;fill:#000;stroke:#000;stroke-width:0.12;text-rendering:geometricPrecision">26 Oct 22:00</text>
<text transform="translate(324.4,563) scale(0.945,1)" style="font-size:10px;fill:#000;stroke:#000;stroke-width:0.12;text-rendering:geometricPrecision">31 Oct 14:00</text>
<text transform="translate(388.4,563) scale(0.945,1)" style="font-size:10px;fill:#000;stroke:#000;stroke-width:0.12;text-rendering:geometricPrecision">5 Nov 07:00</text>
<text transform="translate(452.4,563) scale(0.945,1)" style="font-size:10px;fill:#000;stroke:#000;stroke-width:0.12;text-rendering:geometricPrecision">7 Nov 23:00</text>
<text transform="translate(516.4,563) scale(0.945,1)" style="font-size:10px;fill:#000;stroke:#000;stroke-width:0.12;text-rendering:geometricPrecision">12 Nov 15:00</text>
<text transform="translate(580.4,563) scale(0.945,1)" style="font-size:10px;fill:#000;stroke:#000;stroke-width:0.12;text-rendering:geometricPrecision">15 Nov 04:00</text>
<text transform="translate(644.4,563) scale(0.945,1)" style="font-size:10px;fill:#000;stroke:#000;stroke-width:0.12;text-rendering:geometricPrecision">19 Nov 23:00</text>
<text transform="translate(708.4,563) scale(0.945,1)" style="font-size:10px;fill:#000;stroke:#000;stroke-width:0.12;text-rendering:geometricPrecision">22 Nov 15:00</text>
<text transform="translate(772.4,563) scale(0.945,1)" style="font-size:10px;fill:#000;stroke:#000;stroke-width:0.12;text-rendering:geometricPrecision">27 Nov 04:00</text>
<text transform="translate(836.4,563) scale(0.945,1)" style="font-size:10px;fill:#000;stroke:#000;stroke-width:0.12;text-rendering:geometricPrecision">29 Nov 23:00</text>
<text transform="translate(900.4,563) scale(0.945,1)" style="font-size:10px;fill:#000;stroke:#000;stroke-width:0.12;text-rendering:geometricPrecision">4 Dec 15:00</text>
<text transform="translate(964.4,563) scale(0.945,1)" style="font-size:10px;fill:#000;stroke:#000;stroke-width:0.12;text-rendering:geometricPrecision">7 Dec 04:00</text>
<text transform="translate(1028.4,563) scale(0.945,1)" style="font-size:10px;fill:#000;stroke:#000;stroke-width:0.12;text-rendering:geometricPrecision">11 Dec 23:00</text>
<path d="M8 40.6 L15 40.6 L11.5 36.4 Z" fill="#000"/>
<text transform="translate(20.2,41) scale(0.931,1)" style="font-size:10px;fill:#000;stroke:#000;stroke-width:0.12;text-rendering:geometricPrecision">EURUSD,H4&#160;&#160;1.13257 1.13330 1.13154 1.13302</text>
<text transform="translate(8.8,418) scale(0.937,1)" style="font-size:10px;fill:#000;stroke:#000;stroke-width:0.12;text-rendering:geometricPrecision">MACD(12,26,9) -0.000799 0.000280</text>
<defs><linearGradient id="g1" x1="0" y1="0" x2="0" y2="1"><stop offset="0" stop-color="#fb5050"/><stop offset="1" stop-color="#dc2a2a"/></linearGradient>
<linearGradient id="g2" x1="0" y1="0" x2="0" y2="1"><stop offset="0" stop-color="#dc2a2a"/><stop offset="1" stop-color="#b00404"/></linearGradient>
<linearGradient id="g3" x1="0" y1="0" x2="0" y2="1"><stop offset="0" stop-color="#f4f4f4"/><stop offset="0.5" stop-color="#dcdcdc"/><stop offset="1" stop-color="#d0d0d0"/></linearGradient><linearGradient id="g2u" gradientUnits="userSpaceOnUse" x1="0" y1="73" x2="0" y2="113"><stop offset="0" stop-color="#dc2a2a"/><stop offset="1" stop-color="#b00404"/></linearGradient></defs>
<g shape-rendering="crispEdges">
<rect x="8" y="49" width="52" height="25" fill="url(#g1)"/>
<rect x="175" y="49" width="52" height="25" fill="url(#g1)"/>
<rect x="8" y="73" width="109" height="40" fill="url(#g2)"/>
<rect x="119" y="73" width="108" height="40" fill="url(#g2)"/>
<rect x="8" y="49" width="52" height="1" fill="#c81414"/><rect x="8" y="49" width="1" height="64" fill="#c81414"/>
<rect x="175" y="49" width="52" height="1" fill="#c81414"/><rect x="226" y="49" width="1" height="64" fill="#c81414"/>
<rect x="59" y="49" width="1" height="24" fill="#c81414"/><rect x="175" y="49" width="1" height="24" fill="#c81414"/>
<rect x="12" y="72" width="44" height="1" fill="#b01010"/><rect x="12" y="73" width="44" height="1" fill="#f08080"/>
<rect x="179" y="72" width="44" height="1" fill="#b01010"/><rect x="179" y="73" width="44" height="1" fill="#f08080"/>
<rect x="62.5" y="49.5" width="111" height="21" fill="#fff" stroke="#abadb3"/>
<rect x="64" y="51" width="18" height="19" fill="url(#g3)"/><rect x="82" y="50" width="1" height="21" fill="#abadb3"/>
<rect x="153" y="51" width="19" height="19" fill="url(#g3)"/><rect x="152" y="50" width="1" height="21" fill="#abadb3"/>
</g>
<path d="M70 58 L76 58 L73 61.5 Z" fill="#4a5fb8"/><path d="M159 61 L165 61 L162 57.5 Z" fill="#4a5fb8"/>
<text transform="scale(0.9,1)" x="21.78" y="64.6" style="font-size:12px;fill:#fff">SELL</text>
<text transform="scale(0.96,1)" x="196.15" y="64.6" style="font-size:12px;fill:#fff">BUY</text>
<text x="148.3" y="64.3" text-anchor="end" style="font-size:12.1px;fill:#000">3.00</text>
<text x="27.9" y="104" style="font-size:12.8px;font-weight:bold;fill:#fff">1.13</text>
<text transform="scale(0.91,1)" x="61.21" y="104" style="font-size:35px;fill:#fff;stroke:url(#g2u);stroke-width:0.25">30</text>
<text x="95.1" y="88" style="font-size:12.4px;font-weight:bold;fill:#fff">2</text>
<text x="137.9" y="104" style="font-size:12.8px;font-weight:bold;fill:#fff">1.13</text>
<text transform="scale(0.91,1)" x="183.19" y="104" style="font-size:35px;fill:#fff;stroke:url(#g2u);stroke-width:0.25">32</text>
<text x="206.3" y="88" style="font-size:12.4px;font-weight:bold;fill:#fff">1</text>
<g shape-rendering="crispEdges"><rect x="1351" y="27" width="1" height="544" fill="#e3e3e3"/><rect x="1352" y="27" width="1" height="544" fill="#fff"/></g>
</svg></body></html>
